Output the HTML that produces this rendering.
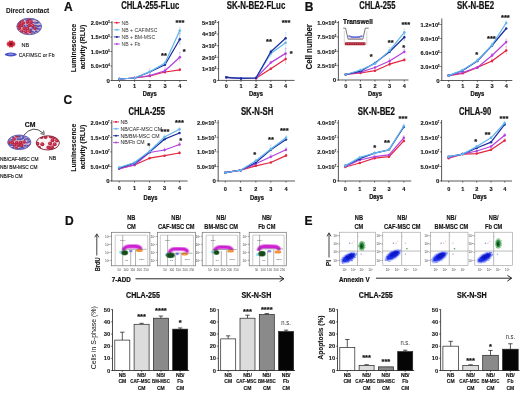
<!DOCTYPE html>
<html><head><meta charset="utf-8"><style>
html,body{margin:0;padding:0;background:#fff;}
svg{display:block;font-family:"Liberation Sans", sans-serif;filter:blur(0.3px);}
</style></head><body>
<svg width="520" height="393" viewBox="0 0 520 393">
<rect width="520" height="393" fill="#fff"/>
<text x="27.60" y="12.74" font-size="7.6" text-anchor="middle" fill="#111" font-weight="bold" stroke="#111" stroke-width="0.05" textLength="43.3" lengthAdjust="spacingAndGlyphs" >Direct contact</text>
<clipPath id="c1"><ellipse cx="29.2" cy="26.5" rx="12.4" ry="8.2"/></clipPath>
<ellipse cx="29.2" cy="26.5" rx="12.4" ry="8.2" fill="#d8b4d4"/>
<g clip-path="url(#c1)">
<circle cx="17.97" cy="19.74" r="1.85" fill="#b8233f"/>
<circle cx="17.67" cy="19.44" r="0.74" fill="#d85a70"/>
<circle cx="22.04" cy="19.92" r="1.85" fill="#b8233f"/>
<circle cx="21.74" cy="19.62" r="0.74" fill="#d85a70"/>
<ellipse cx="26.22" cy="19.65" rx="2.7" ry="1.0" fill="#474aa8" transform="rotate(25 26.22 19.65)"/>
<ellipse cx="26.22" cy="19.65" rx="1.3" ry="0.4" fill="#9a9ae0" transform="rotate(-4 26.22 19.65)"/>
<circle cx="29.33" cy="19.10" r="1.85" fill="#b8233f"/>
<circle cx="29.03" cy="18.80" r="0.74" fill="#d85a70"/>
<ellipse cx="33.27" cy="19.18" rx="2.7" ry="1.0" fill="#474aa8" transform="rotate(-26 33.27 19.18)"/>
<ellipse cx="33.27" cy="19.18" rx="1.3" ry="0.4" fill="#9a9ae0" transform="rotate(-18 33.27 19.18)"/>
<circle cx="37.47" cy="19.44" r="1.85" fill="#b8233f"/>
<circle cx="37.17" cy="19.14" r="0.74" fill="#d85a70"/>
<ellipse cx="40.51" cy="19.77" rx="2.7" ry="1.0" fill="#474aa8" transform="rotate(-14 40.51 19.77)"/>
<ellipse cx="40.51" cy="19.77" rx="1.3" ry="0.4" fill="#9a9ae0" transform="rotate(2 40.51 19.77)"/>
<circle cx="19.49" cy="22.24" r="1.85" fill="#b8233f"/>
<circle cx="19.19" cy="21.94" r="0.74" fill="#d85a70"/>
<circle cx="23.20" cy="23.01" r="1.85" fill="#b8233f"/>
<circle cx="22.90" cy="22.71" r="0.74" fill="#d85a70"/>
<circle cx="27.39" cy="22.06" r="1.85" fill="#b8233f"/>
<circle cx="27.09" cy="21.76" r="0.74" fill="#d85a70"/>
<circle cx="31.12" cy="22.37" r="1.85" fill="#b8233f"/>
<circle cx="30.82" cy="22.07" r="0.74" fill="#d85a70"/>
<ellipse cx="35.48" cy="22.75" rx="2.7" ry="1.0" fill="#474aa8" transform="rotate(4 35.48 22.75)"/>
<ellipse cx="35.48" cy="22.75" rx="1.3" ry="0.4" fill="#9a9ae0" transform="rotate(26 35.48 22.75)"/>
<ellipse cx="39.52" cy="22.23" rx="2.7" ry="1.0" fill="#474aa8" transform="rotate(-3 39.52 22.23)"/>
<ellipse cx="39.52" cy="22.23" rx="1.3" ry="0.4" fill="#9a9ae0" transform="rotate(-33 39.52 22.23)"/>
<circle cx="18.43" cy="25.44" r="1.85" fill="#b8233f"/>
<circle cx="18.13" cy="25.14" r="0.74" fill="#d85a70"/>
<circle cx="21.59" cy="25.46" r="1.85" fill="#b8233f"/>
<circle cx="21.29" cy="25.16" r="0.74" fill="#d85a70"/>
<ellipse cx="25.89" cy="25.71" rx="2.7" ry="1.0" fill="#474aa8" transform="rotate(-4 25.89 25.71)"/>
<ellipse cx="25.89" cy="25.71" rx="1.3" ry="0.4" fill="#9a9ae0" transform="rotate(24 25.89 25.71)"/>
<circle cx="29.28" cy="25.44" r="1.85" fill="#b8233f"/>
<circle cx="28.98" cy="25.14" r="0.74" fill="#d85a70"/>
<circle cx="32.85" cy="25.83" r="1.85" fill="#b8233f"/>
<circle cx="32.55" cy="25.53" r="0.74" fill="#d85a70"/>
<ellipse cx="36.65" cy="26.03" rx="2.7" ry="1.0" fill="#474aa8" transform="rotate(11 36.65 26.03)"/>
<ellipse cx="36.65" cy="26.03" rx="1.3" ry="0.4" fill="#9a9ae0" transform="rotate(-17 36.65 26.03)"/>
<ellipse cx="40.98" cy="26.01" rx="2.7" ry="1.0" fill="#474aa8" transform="rotate(5 40.98 26.01)"/>
<ellipse cx="40.98" cy="26.01" rx="1.3" ry="0.4" fill="#9a9ae0" transform="rotate(4 40.98 26.01)"/>
<circle cx="19.30" cy="28.20" r="1.85" fill="#b8233f"/>
<circle cx="19.00" cy="27.90" r="0.74" fill="#d85a70"/>
<circle cx="24.35" cy="28.29" r="1.85" fill="#b8233f"/>
<circle cx="24.05" cy="27.99" r="0.74" fill="#d85a70"/>
<circle cx="27.60" cy="28.53" r="1.85" fill="#b8233f"/>
<circle cx="27.30" cy="28.23" r="0.74" fill="#d85a70"/>
<ellipse cx="31.91" cy="28.58" rx="2.7" ry="1.0" fill="#474aa8" transform="rotate(-31 31.91 28.58)"/>
<ellipse cx="31.91" cy="28.58" rx="1.3" ry="0.4" fill="#9a9ae0" transform="rotate(28 31.91 28.58)"/>
<circle cx="35.12" cy="28.33" r="1.85" fill="#b8233f"/>
<circle cx="34.82" cy="28.03" r="0.74" fill="#d85a70"/>
<ellipse cx="38.74" cy="29.02" rx="2.7" ry="1.0" fill="#474aa8" transform="rotate(12 38.74 29.02)"/>
<ellipse cx="38.74" cy="29.02" rx="1.3" ry="0.4" fill="#9a9ae0" transform="rotate(-16 38.74 29.02)"/>
<circle cx="17.18" cy="31.59" r="1.85" fill="#b8233f"/>
<circle cx="16.88" cy="31.29" r="0.74" fill="#d85a70"/>
<circle cx="21.87" cy="31.34" r="1.85" fill="#b8233f"/>
<circle cx="21.57" cy="31.04" r="0.74" fill="#d85a70"/>
<circle cx="25.86" cy="31.49" r="1.85" fill="#b8233f"/>
<circle cx="25.56" cy="31.19" r="0.74" fill="#d85a70"/>
<circle cx="30.06" cy="31.28" r="1.85" fill="#b8233f"/>
<circle cx="29.76" cy="30.98" r="0.74" fill="#d85a70"/>
<ellipse cx="32.95" cy="32.11" rx="2.7" ry="1.0" fill="#474aa8" transform="rotate(27 32.95 32.11)"/>
<ellipse cx="32.95" cy="32.11" rx="1.3" ry="0.4" fill="#9a9ae0" transform="rotate(-1 32.95 32.11)"/>
<ellipse cx="37.32" cy="31.72" rx="2.7" ry="1.0" fill="#474aa8" transform="rotate(10 37.32 31.72)"/>
<ellipse cx="37.32" cy="31.72" rx="1.3" ry="0.4" fill="#9a9ae0" transform="rotate(-31 37.32 31.72)"/>
<ellipse cx="41.56" cy="31.53" rx="2.7" ry="1.0" fill="#474aa8" transform="rotate(27 41.56 31.53)"/>
<ellipse cx="41.56" cy="31.53" rx="1.3" ry="0.4" fill="#9a9ae0" transform="rotate(-2 41.56 31.53)"/>
<circle cx="20.13" cy="34.90" r="1.85" fill="#b8233f"/>
<circle cx="19.83" cy="34.60" r="0.74" fill="#d85a70"/>
<circle cx="23.86" cy="34.79" r="1.85" fill="#b8233f"/>
<circle cx="23.56" cy="34.49" r="0.74" fill="#d85a70"/>
<circle cx="27.20" cy="34.88" r="1.85" fill="#b8233f"/>
<circle cx="26.90" cy="34.58" r="0.74" fill="#d85a70"/>
<circle cx="31.66" cy="35.01" r="1.85" fill="#b8233f"/>
<circle cx="31.36" cy="34.71" r="0.74" fill="#d85a70"/>
<circle cx="35.68" cy="35.04" r="1.85" fill="#b8233f"/>
<circle cx="35.38" cy="34.74" r="0.74" fill="#d85a70"/>
<circle cx="39.77" cy="34.90" r="1.85" fill="#b8233f"/>
<circle cx="39.47" cy="34.60" r="0.74" fill="#d85a70"/>
</g>
<ellipse cx="29.2" cy="26.5" rx="12.4" ry="8.2" fill="none" stroke="#7068b0" stroke-width="1.0"/>
<polygon points="15.90,44.00 14.42,44.89 14.96,46.30 13.12,46.33 12.51,47.73 11.00,46.88 9.49,47.73 8.88,46.33 7.04,46.30 7.58,44.89 6.10,44.00 7.58,43.11 7.04,41.70 8.88,41.67 9.49,40.27 11.00,41.12 12.51,40.27 13.12,41.67 14.96,41.70 14.42,43.11" fill="#d0283c"/>
<circle cx="11" cy="44" r="1.6" fill="#8a1020"/>
<text x="25.30" y="46.66" font-size="6.0" text-anchor="middle" fill="#222" stroke="#222" stroke-width="0.15" textLength="7.6" lengthAdjust="spacingAndGlyphs" >NB</text>
<ellipse cx="10.8" cy="54.5" rx="6" ry="1.9" fill="#4c52c8"/>
<ellipse cx="10.8" cy="54.3" rx="3" ry="0.8" fill="#8a90e0"/>
<text x="18.70" y="57.43" font-size="6.2" text-anchor="start" fill="#222" stroke="#222" stroke-width="0.15" textLength="35.8" lengthAdjust="spacingAndGlyphs" >CAF/MSC or Fb</text>
<text x="30.20" y="126.58" font-size="8.0" text-anchor="middle" fill="#111" font-weight="bold" stroke="#111" stroke-width="0.22" textLength="10.7" lengthAdjust="spacingAndGlyphs" >CM</text>
<path d="M23.5,135.5 Q33,124 43,133" fill="none" stroke="#222" stroke-width="0.8"/>
<path d="M40.5,133.6 L44.2,134.4 L43.6,130.6" fill="none" stroke="#222" stroke-width="0.8"/>
<clipPath id="c2"><ellipse cx="19.3" cy="142.3" rx="11.6" ry="7.3"/></clipPath>
<ellipse cx="19.3" cy="142.3" rx="11.6" ry="7.3" fill="#d8b4d4"/>
<g clip-path="url(#c2)">
<circle cx="8.65" cy="136.07" r="1.85" fill="#b8233f"/>
<circle cx="8.35" cy="135.77" r="0.74" fill="#d85a70"/>
<ellipse cx="11.91" cy="136.20" rx="2.7" ry="1.0" fill="#474aa8" transform="rotate(35 11.91 136.20)"/>
<ellipse cx="11.91" cy="136.20" rx="1.3" ry="0.4" fill="#9a9ae0" transform="rotate(-30 11.91 136.20)"/>
<circle cx="16.82" cy="135.87" r="1.85" fill="#b8233f"/>
<circle cx="16.52" cy="135.57" r="0.74" fill="#d85a70"/>
<ellipse cx="20.29" cy="135.87" rx="2.7" ry="1.0" fill="#474aa8" transform="rotate(-27 20.29 135.87)"/>
<ellipse cx="20.29" cy="135.87" rx="1.3" ry="0.4" fill="#9a9ae0" transform="rotate(14 20.29 135.87)"/>
<ellipse cx="24.71" cy="136.59" rx="2.7" ry="1.0" fill="#474aa8" transform="rotate(-7 24.71 136.59)"/>
<ellipse cx="24.71" cy="136.59" rx="1.3" ry="0.4" fill="#9a9ae0" transform="rotate(18 24.71 136.59)"/>
<ellipse cx="28.75" cy="136.47" rx="2.7" ry="1.0" fill="#474aa8" transform="rotate(8 28.75 136.47)"/>
<ellipse cx="28.75" cy="136.47" rx="1.3" ry="0.4" fill="#9a9ae0" transform="rotate(-30 28.75 136.47)"/>
<ellipse cx="10.23" cy="139.63" rx="2.7" ry="1.0" fill="#474aa8" transform="rotate(13 10.23 139.63)"/>
<ellipse cx="10.23" cy="139.63" rx="1.3" ry="0.4" fill="#9a9ae0" transform="rotate(27 10.23 139.63)"/>
<circle cx="14.04" cy="138.98" r="1.85" fill="#b8233f"/>
<circle cx="13.74" cy="138.68" r="0.74" fill="#d85a70"/>
<ellipse cx="19.10" cy="138.75" rx="2.7" ry="1.0" fill="#474aa8" transform="rotate(-10 19.10 138.75)"/>
<ellipse cx="19.10" cy="138.75" rx="1.3" ry="0.4" fill="#9a9ae0" transform="rotate(7 19.10 138.75)"/>
<ellipse cx="21.66" cy="138.83" rx="2.7" ry="1.0" fill="#474aa8" transform="rotate(-25 21.66 138.83)"/>
<ellipse cx="21.66" cy="138.83" rx="1.3" ry="0.4" fill="#9a9ae0" transform="rotate(28 21.66 138.83)"/>
<ellipse cx="26.30" cy="138.94" rx="2.7" ry="1.0" fill="#474aa8" transform="rotate(-24 26.30 138.94)"/>
<ellipse cx="26.30" cy="138.94" rx="1.3" ry="0.4" fill="#9a9ae0" transform="rotate(-17 26.30 138.94)"/>
<ellipse cx="29.69" cy="139.35" rx="2.7" ry="1.0" fill="#474aa8" transform="rotate(-16 29.69 139.35)"/>
<ellipse cx="29.69" cy="139.35" rx="1.3" ry="0.4" fill="#9a9ae0" transform="rotate(-1 29.69 139.35)"/>
<circle cx="9.03" cy="142.36" r="1.85" fill="#b8233f"/>
<circle cx="8.73" cy="142.06" r="0.74" fill="#d85a70"/>
<circle cx="12.46" cy="142.69" r="1.85" fill="#b8233f"/>
<circle cx="12.16" cy="142.39" r="0.74" fill="#d85a70"/>
<circle cx="16.83" cy="142.63" r="1.85" fill="#b8233f"/>
<circle cx="16.53" cy="142.33" r="0.74" fill="#d85a70"/>
<circle cx="20.66" cy="142.65" r="1.85" fill="#b8233f"/>
<circle cx="20.36" cy="142.35" r="0.74" fill="#d85a70"/>
<circle cx="24.11" cy="141.99" r="1.85" fill="#b8233f"/>
<circle cx="23.81" cy="141.69" r="0.74" fill="#d85a70"/>
<ellipse cx="28.54" cy="142.16" rx="2.7" ry="1.0" fill="#474aa8" transform="rotate(-21 28.54 142.16)"/>
<ellipse cx="28.54" cy="142.16" rx="1.3" ry="0.4" fill="#9a9ae0" transform="rotate(-8 28.54 142.16)"/>
<ellipse cx="10.26" cy="145.10" rx="2.7" ry="1.0" fill="#474aa8" transform="rotate(1 10.26 145.10)"/>
<ellipse cx="10.26" cy="145.10" rx="1.3" ry="0.4" fill="#9a9ae0" transform="rotate(-22 10.26 145.10)"/>
<circle cx="14.57" cy="144.88" r="1.85" fill="#b8233f"/>
<circle cx="14.27" cy="144.58" r="0.74" fill="#d85a70"/>
<circle cx="18.35" cy="145.17" r="1.85" fill="#b8233f"/>
<circle cx="18.05" cy="144.87" r="0.74" fill="#d85a70"/>
<circle cx="21.74" cy="145.47" r="1.85" fill="#b8233f"/>
<circle cx="21.44" cy="145.17" r="0.74" fill="#d85a70"/>
<ellipse cx="26.26" cy="145.78" rx="2.7" ry="1.0" fill="#474aa8" transform="rotate(2 26.26 145.78)"/>
<ellipse cx="26.26" cy="145.78" rx="1.3" ry="0.4" fill="#9a9ae0" transform="rotate(-14 26.26 145.78)"/>
<circle cx="30.42" cy="145.70" r="1.85" fill="#b8233f"/>
<circle cx="30.12" cy="145.40" r="0.74" fill="#d85a70"/>
<ellipse cx="9.13" cy="148.13" rx="2.7" ry="1.0" fill="#474aa8" transform="rotate(-17 9.13 148.13)"/>
<ellipse cx="9.13" cy="148.13" rx="1.3" ry="0.4" fill="#9a9ae0" transform="rotate(-34 9.13 148.13)"/>
<ellipse cx="11.97" cy="148.32" rx="2.7" ry="1.0" fill="#474aa8" transform="rotate(-34 11.97 148.32)"/>
<ellipse cx="11.97" cy="148.32" rx="1.3" ry="0.4" fill="#9a9ae0" transform="rotate(10 11.97 148.32)"/>
<circle cx="16.20" cy="148.35" r="1.85" fill="#b8233f"/>
<circle cx="15.90" cy="148.05" r="0.74" fill="#d85a70"/>
<ellipse cx="20.75" cy="148.16" rx="2.7" ry="1.0" fill="#474aa8" transform="rotate(-17 20.75 148.16)"/>
<ellipse cx="20.75" cy="148.16" rx="1.3" ry="0.4" fill="#9a9ae0" transform="rotate(14 20.75 148.16)"/>
<ellipse cx="24.42" cy="148.67" rx="2.7" ry="1.0" fill="#474aa8" transform="rotate(28 24.42 148.67)"/>
<ellipse cx="24.42" cy="148.67" rx="1.3" ry="0.4" fill="#9a9ae0" transform="rotate(9 24.42 148.67)"/>
<ellipse cx="27.64" cy="147.92" rx="2.7" ry="1.0" fill="#474aa8" transform="rotate(-25 27.64 147.92)"/>
<ellipse cx="27.64" cy="147.92" rx="1.3" ry="0.4" fill="#9a9ae0" transform="rotate(-15 27.64 147.92)"/>
</g>
<ellipse cx="19.3" cy="142.3" rx="11.6" ry="7.3" fill="none" stroke="#6064b8" stroke-width="1.0"/>
<clipPath id="c3"><ellipse cx="47.8" cy="142.9" rx="11.6" ry="7.1"/></clipPath>
<ellipse cx="47.8" cy="142.9" rx="11.6" ry="7.1" fill="#fbf2f4"/>
<g clip-path="url(#c3)">
<circle cx="37.13" cy="137.06" r="2.0" fill="#b8233f"/>
<circle cx="36.83" cy="136.76" r="0.80" fill="#d85a70"/>
<circle cx="41.55" cy="137.01" r="2.0" fill="#b8233f"/>
<circle cx="41.25" cy="136.71" r="0.80" fill="#d85a70"/>
<circle cx="45.56" cy="137.01" r="2.0" fill="#b8233f"/>
<circle cx="45.26" cy="136.71" r="0.80" fill="#d85a70"/>
<circle cx="50.81" cy="136.59" r="2.0" fill="#b8233f"/>
<circle cx="50.51" cy="136.29" r="0.80" fill="#d85a70"/>
<circle cx="54.23" cy="137.31" r="2.0" fill="#b8233f"/>
<circle cx="53.93" cy="137.01" r="0.80" fill="#d85a70"/>
<circle cx="58.56" cy="137.48" r="2.0" fill="#b8233f"/>
<circle cx="58.26" cy="137.18" r="0.80" fill="#d85a70"/>
<circle cx="52.55" cy="140.37" r="2.0" fill="#b8233f"/>
<circle cx="52.25" cy="140.07" r="0.80" fill="#d85a70"/>
<circle cx="57.03" cy="140.57" r="2.0" fill="#b8233f"/>
<circle cx="56.73" cy="140.27" r="0.80" fill="#d85a70"/>
<circle cx="37.43" cy="143.82" r="2.0" fill="#b8233f"/>
<circle cx="37.13" cy="143.52" r="0.80" fill="#d85a70"/>
<circle cx="42.30" cy="144.36" r="2.0" fill="#b8233f"/>
<circle cx="42.00" cy="144.06" r="0.80" fill="#d85a70"/>
<circle cx="50.10" cy="143.43" r="2.0" fill="#b8233f"/>
<circle cx="49.80" cy="143.13" r="0.80" fill="#d85a70"/>
<circle cx="54.66" cy="144.21" r="2.0" fill="#b8233f"/>
<circle cx="54.36" cy="143.91" r="0.80" fill="#d85a70"/>
<circle cx="38.99" cy="147.71" r="2.0" fill="#b8233f"/>
<circle cx="38.69" cy="147.41" r="0.80" fill="#d85a70"/>
<circle cx="48.38" cy="147.57" r="2.0" fill="#b8233f"/>
<circle cx="48.08" cy="147.27" r="0.80" fill="#d85a70"/>
<circle cx="52.02" cy="147.13" r="2.0" fill="#b8233f"/>
<circle cx="51.72" cy="146.83" r="0.80" fill="#d85a70"/>
<circle cx="36.64" cy="150.29" r="2.0" fill="#b8233f"/>
<circle cx="36.34" cy="149.99" r="0.80" fill="#d85a70"/>
<circle cx="41.15" cy="150.79" r="2.0" fill="#b8233f"/>
<circle cx="40.85" cy="150.49" r="0.80" fill="#d85a70"/>
<circle cx="50.60" cy="150.34" r="2.0" fill="#b8233f"/>
<circle cx="50.30" cy="150.04" r="0.80" fill="#d85a70"/>
<circle cx="54.40" cy="150.50" r="2.0" fill="#b8233f"/>
<circle cx="54.10" cy="150.20" r="0.80" fill="#d85a70"/>
<circle cx="59.62" cy="150.53" r="2.0" fill="#b8233f"/>
<circle cx="59.32" cy="150.23" r="0.80" fill="#d85a70"/>
</g>
<ellipse cx="47.8" cy="142.9" rx="11.6" ry="7.1" fill="none" stroke="#8a2a3c" stroke-width="1.0"/>
<text x="0.00" y="160.83" font-size="6.2" text-anchor="start" fill="#1a1a1a" stroke="#1a1a1a" stroke-width="0.2" textLength="38.5" lengthAdjust="spacingAndGlyphs" >NB/CAF-MSC CM</text>
<text x="0.00" y="169.03" font-size="6.2" text-anchor="start" fill="#1a1a1a" stroke="#1a1a1a" stroke-width="0.2" textLength="37.4" lengthAdjust="spacingAndGlyphs" >NB/ BM-MSC CM</text>
<text x="0.00" y="177.53" font-size="6.2" text-anchor="start" fill="#1a1a1a" stroke="#1a1a1a" stroke-width="0.2" textLength="22.6" lengthAdjust="spacingAndGlyphs" >NB/Fb CM</text>
<text x="52.60" y="160.46" font-size="6.0" text-anchor="middle" fill="#1a1a1a" stroke="#1a1a1a" stroke-width="0.2" textLength="7.0" lengthAdjust="spacingAndGlyphs" >NB</text>
<text x="68.40" y="10.92" font-size="12.0" text-anchor="middle" fill="#111" font-weight="bold" stroke="#111" stroke-width="0.22" >A</text>
<text x="309.00" y="11.42" font-size="12.0" text-anchor="middle" fill="#111" font-weight="bold" stroke="#111" stroke-width="0.22" >B</text>
<text x="67.80" y="104.32" font-size="12.0" text-anchor="middle" fill="#111" font-weight="bold" stroke="#111" stroke-width="0.22" >C</text>
<text x="69.40" y="225.32" font-size="12.0" text-anchor="middle" fill="#111" font-weight="bold" stroke="#111" stroke-width="0.22" >D</text>
<text x="308.60" y="225.32" font-size="12.0" text-anchor="middle" fill="#111" font-weight="bold" stroke="#111" stroke-width="0.22" >E</text>
<line x1="112.00" y1="21.00" x2="112.00" y2="81.00" stroke="#505050" stroke-width="0.95" />
<line x1="111.50" y1="80.50" x2="187.00" y2="80.50" stroke="#505050" stroke-width="0.95" />
<line x1="110.40" y1="22.60" x2="112.00" y2="22.60" stroke="#222" stroke-width="0.6" />
<text x="109.80" y="24.80" font-size="6.1" text-anchor="end" fill="#111" font-weight="bold" stroke="#111" stroke-width="0.12" textLength="19.0" lengthAdjust="spacingAndGlyphs" >2.0×10<tspan dy="-2" font-size="3">5</tspan></text>
<line x1="110.40" y1="37.10" x2="112.00" y2="37.10" stroke="#222" stroke-width="0.6" />
<text x="109.80" y="39.30" font-size="6.1" text-anchor="end" fill="#111" font-weight="bold" stroke="#111" stroke-width="0.12" textLength="19.0" lengthAdjust="spacingAndGlyphs" >1.5×10<tspan dy="-2" font-size="3">5</tspan></text>
<line x1="110.40" y1="51.50" x2="112.00" y2="51.50" stroke="#222" stroke-width="0.6" />
<text x="109.80" y="53.70" font-size="6.1" text-anchor="end" fill="#111" font-weight="bold" stroke="#111" stroke-width="0.12" textLength="19.0" lengthAdjust="spacingAndGlyphs" >1.0×10<tspan dy="-2" font-size="3">5</tspan></text>
<line x1="110.40" y1="66.00" x2="112.00" y2="66.00" stroke="#222" stroke-width="0.6" />
<text x="109.80" y="68.20" font-size="6.1" text-anchor="end" fill="#111" font-weight="bold" stroke="#111" stroke-width="0.12" textLength="19.0" lengthAdjust="spacingAndGlyphs" >5.0×10<tspan dy="-2" font-size="3">4</tspan></text>
<line x1="110.40" y1="80.50" x2="112.00" y2="80.50" stroke="#222" stroke-width="0.6" />
<text x="109.80" y="82.70" font-size="6.1" text-anchor="end" fill="#111" font-weight="bold" stroke="#111" stroke-width="0.12" >0</text>
<line x1="119.50" y1="80.50" x2="119.50" y2="82.10" stroke="#222" stroke-width="0.6" />
<text x="119.50" y="87.82" font-size="5.6" text-anchor="middle" fill="#111" font-weight="bold" stroke="#111" stroke-width="0.12" >0</text>
<line x1="134.60" y1="80.50" x2="134.60" y2="82.10" stroke="#222" stroke-width="0.6" />
<text x="134.60" y="87.82" font-size="5.6" text-anchor="middle" fill="#111" font-weight="bold" stroke="#111" stroke-width="0.12" >1</text>
<line x1="149.80" y1="80.50" x2="149.80" y2="82.10" stroke="#222" stroke-width="0.6" />
<text x="149.80" y="87.82" font-size="5.6" text-anchor="middle" fill="#111" font-weight="bold" stroke="#111" stroke-width="0.12" >2</text>
<line x1="165.00" y1="80.50" x2="165.00" y2="82.10" stroke="#222" stroke-width="0.6" />
<text x="165.00" y="87.82" font-size="5.6" text-anchor="middle" fill="#111" font-weight="bold" stroke="#111" stroke-width="0.12" >3</text>
<line x1="179.80" y1="80.50" x2="179.80" y2="82.10" stroke="#222" stroke-width="0.6" />
<text x="179.80" y="87.82" font-size="5.6" text-anchor="middle" fill="#111" font-weight="bold" stroke="#111" stroke-width="0.12" >4</text>
<text x="149.74" y="96.19" font-size="7.2" text-anchor="middle" fill="#111" font-weight="bold" stroke="#111" stroke-width="0.22" textLength="13.9" lengthAdjust="spacingAndGlyphs" >Days</text>
<text x="150.20" y="9.10" font-size="10.0" text-anchor="middle" fill="#111" font-weight="bold" stroke="#111" stroke-width="0.22" textLength="58" lengthAdjust="spacingAndGlyphs" >CHLA-255-FLuc</text>
<line x1="149.80" y1="74.50" x2="149.80" y2="77.50" stroke="#e3263f" stroke-width="0.5" stroke-opacity="0.55"/>
<line x1="148.80" y1="74.50" x2="150.80" y2="74.50" stroke="#e3263f" stroke-width="0.5" stroke-opacity="0.55"/>
<line x1="165.00" y1="70.00" x2="165.00" y2="74.00" stroke="#e3263f" stroke-width="0.5" stroke-opacity="0.55"/>
<line x1="164.00" y1="70.00" x2="166.00" y2="70.00" stroke="#e3263f" stroke-width="0.5" stroke-opacity="0.55"/>
<line x1="179.80" y1="68.30" x2="179.80" y2="71.30" stroke="#e3263f" stroke-width="0.5" stroke-opacity="0.55"/>
<line x1="178.80" y1="68.30" x2="180.80" y2="68.30" stroke="#e3263f" stroke-width="0.5" stroke-opacity="0.55"/>
<polyline points="119.50,79.00 134.60,78.00 149.80,76.00 165.00,72.00 179.80,69.80" fill="none" stroke="#e3263f" stroke-width="1.25" stroke-linejoin="round"/>
<circle cx="119.50" cy="79.00" r="1.25" fill="#e3263f"/>
<circle cx="134.60" cy="78.00" r="1.25" fill="#e3263f"/>
<circle cx="149.80" cy="76.00" r="1.25" fill="#e3263f"/>
<circle cx="165.00" cy="72.00" r="1.25" fill="#e3263f"/>
<circle cx="179.80" cy="69.80" r="1.25" fill="#e3263f"/>
<line x1="165.00" y1="67.80" x2="165.00" y2="73.80" stroke="#b541dd" stroke-width="0.5" stroke-opacity="0.55"/>
<line x1="164.00" y1="67.80" x2="166.00" y2="67.80" stroke="#b541dd" stroke-width="0.5" stroke-opacity="0.55"/>
<line x1="179.80" y1="52.20" x2="179.80" y2="62.20" stroke="#b541dd" stroke-width="0.5" stroke-opacity="0.55"/>
<line x1="178.80" y1="52.20" x2="180.80" y2="52.20" stroke="#b541dd" stroke-width="0.5" stroke-opacity="0.55"/>
<polyline points="119.50,79.00 134.60,78.00 149.80,75.50 165.00,70.80 179.80,57.20" fill="none" stroke="#b541dd" stroke-width="1.25" stroke-linejoin="round"/>
<circle cx="119.50" cy="79.00" r="1.25" fill="#b541dd"/>
<circle cx="134.60" cy="78.00" r="1.25" fill="#b541dd"/>
<circle cx="149.80" cy="75.50" r="1.25" fill="#b541dd"/>
<circle cx="165.00" cy="70.80" r="1.25" fill="#b541dd"/>
<circle cx="179.80" cy="57.20" r="1.25" fill="#b541dd"/>
<line x1="179.80" y1="33.20" x2="179.80" y2="45.20" stroke="#1d2e9e" stroke-width="0.5" stroke-opacity="0.55"/>
<line x1="178.80" y1="33.20" x2="180.80" y2="33.20" stroke="#1d2e9e" stroke-width="0.5" stroke-opacity="0.55"/>
<polyline points="119.50,79.00 134.60,78.00 149.80,72.00 165.00,64.80 179.80,39.20" fill="none" stroke="#1d2e9e" stroke-width="1.25" stroke-linejoin="round"/>
<circle cx="119.50" cy="79.00" r="1.25" fill="#1d2e9e"/>
<circle cx="134.60" cy="78.00" r="1.25" fill="#1d2e9e"/>
<circle cx="149.80" cy="72.00" r="1.25" fill="#1d2e9e"/>
<circle cx="165.00" cy="64.80" r="1.25" fill="#1d2e9e"/>
<circle cx="179.80" cy="39.20" r="1.25" fill="#1d2e9e"/>
<line x1="149.80" y1="68.70" x2="149.80" y2="74.70" stroke="#62b6ee" stroke-width="0.5" stroke-opacity="0.55"/>
<line x1="148.80" y1="68.70" x2="150.80" y2="68.70" stroke="#62b6ee" stroke-width="0.5" stroke-opacity="0.55"/>
<line x1="179.80" y1="27.60" x2="179.80" y2="33.60" stroke="#62b6ee" stroke-width="0.5" stroke-opacity="0.55"/>
<line x1="178.80" y1="27.60" x2="180.80" y2="27.60" stroke="#62b6ee" stroke-width="0.5" stroke-opacity="0.55"/>
<polyline points="119.50,79.00 134.60,78.00 149.80,71.70 165.00,63.00 179.80,30.60" fill="none" stroke="#62b6ee" stroke-width="1.25" stroke-linejoin="round"/>
<circle cx="119.50" cy="79.00" r="1.25" fill="#62b6ee"/>
<circle cx="134.60" cy="78.00" r="1.25" fill="#62b6ee"/>
<circle cx="149.80" cy="71.70" r="1.25" fill="#62b6ee"/>
<circle cx="165.00" cy="63.00" r="1.25" fill="#62b6ee"/>
<circle cx="179.80" cy="30.60" r="1.25" fill="#62b6ee"/>
<text x="163.90" y="57.60" font-size="7.5" text-anchor="middle" fill="#111" font-weight="bold" stroke="#111" stroke-width="0.22">**</text>
<text x="180.00" y="24.80" font-size="7.5" text-anchor="middle" fill="#111" font-weight="bold" stroke="#111" stroke-width="0.22">***</text>
<text x="184.30" y="53.80" font-size="7.5" text-anchor="middle" fill="#111" font-weight="bold" stroke="#111" stroke-width="0.22">*</text>
<text x="0" y="0" font-size="7.9" text-anchor="middle" fill="#111" font-weight="bold" stroke="#111" stroke-width="0.1" textLength="48.5" lengthAdjust="spacingAndGlyphs" transform="translate(75.84 48.00) rotate(-90)">Luminescence</text>
<text x="0" y="0" font-size="7.9" text-anchor="middle" fill="#111" font-weight="bold" stroke="#111" stroke-width="0.1" textLength="44.6" lengthAdjust="spacingAndGlyphs" transform="translate(84.54 47.00) rotate(-90)">activity (RLU)</text>
<line x1="113.80" y1="22.70" x2="119.80" y2="22.70" stroke="#e3263f" stroke-width="0.9" />
<circle cx="116.8" cy="22.7" r="1.0" fill="#e3263f"/>
<text x="121.60" y="24.54" font-size="5.1" text-anchor="start" fill="#333" >NB</text>
<line x1="113.80" y1="29.80" x2="119.80" y2="29.80" stroke="#62b6ee" stroke-width="0.9" />
<circle cx="116.8" cy="29.799999999999997" r="1.0" fill="#62b6ee"/>
<text x="121.60" y="31.64" font-size="5.1" text-anchor="start" fill="#333" >NB + CAF/MSC</text>
<line x1="113.80" y1="36.90" x2="119.80" y2="36.90" stroke="#1d2e9e" stroke-width="0.9" />
<circle cx="116.8" cy="36.9" r="1.0" fill="#1d2e9e"/>
<text x="121.60" y="38.74" font-size="5.1" text-anchor="start" fill="#333" >NB + BM-MSC</text>
<line x1="113.80" y1="44.00" x2="119.80" y2="44.00" stroke="#b541dd" stroke-width="0.9" />
<circle cx="116.8" cy="44.0" r="1.0" fill="#b541dd"/>
<text x="121.60" y="45.84" font-size="5.1" text-anchor="start" fill="#333" >NB + Fb</text>
<line x1="218.60" y1="21.00" x2="218.60" y2="80.90" stroke="#505050" stroke-width="0.95" />
<line x1="218.10" y1="80.40" x2="294.60" y2="80.40" stroke="#505050" stroke-width="0.95" />
<line x1="217.00" y1="22.60" x2="218.60" y2="22.60" stroke="#222" stroke-width="0.6" />
<text x="216.40" y="24.80" font-size="6.1" text-anchor="end" fill="#111" font-weight="bold" stroke="#111" stroke-width="0.12" textLength="14.5" lengthAdjust="spacingAndGlyphs" >5×10<tspan dy="-2" font-size="3">5</tspan></text>
<line x1="217.00" y1="34.20" x2="218.60" y2="34.20" stroke="#222" stroke-width="0.6" />
<text x="216.40" y="36.40" font-size="6.1" text-anchor="end" fill="#111" font-weight="bold" stroke="#111" stroke-width="0.12" textLength="14.5" lengthAdjust="spacingAndGlyphs" >4×10<tspan dy="-2" font-size="3">5</tspan></text>
<line x1="217.00" y1="45.80" x2="218.60" y2="45.80" stroke="#222" stroke-width="0.6" />
<text x="216.40" y="48.00" font-size="6.1" text-anchor="end" fill="#111" font-weight="bold" stroke="#111" stroke-width="0.12" textLength="14.5" lengthAdjust="spacingAndGlyphs" >3×10<tspan dy="-2" font-size="3">5</tspan></text>
<line x1="217.00" y1="57.30" x2="218.60" y2="57.30" stroke="#222" stroke-width="0.6" />
<text x="216.40" y="59.50" font-size="6.1" text-anchor="end" fill="#111" font-weight="bold" stroke="#111" stroke-width="0.12" textLength="14.5" lengthAdjust="spacingAndGlyphs" >2×10<tspan dy="-2" font-size="3">5</tspan></text>
<line x1="217.00" y1="68.90" x2="218.60" y2="68.90" stroke="#222" stroke-width="0.6" />
<text x="216.40" y="71.10" font-size="6.1" text-anchor="end" fill="#111" font-weight="bold" stroke="#111" stroke-width="0.12" textLength="14.5" lengthAdjust="spacingAndGlyphs" >1×10<tspan dy="-2" font-size="3">5</tspan></text>
<line x1="217.00" y1="80.50" x2="218.60" y2="80.50" stroke="#222" stroke-width="0.6" />
<text x="216.40" y="82.70" font-size="6.1" text-anchor="end" fill="#111" font-weight="bold" stroke="#111" stroke-width="0.12" >0</text>
<line x1="226.40" y1="80.40" x2="226.40" y2="82.00" stroke="#222" stroke-width="0.6" />
<text x="226.40" y="87.82" font-size="5.6" text-anchor="middle" fill="#111" font-weight="bold" stroke="#111" stroke-width="0.12" >0</text>
<line x1="241.00" y1="80.40" x2="241.00" y2="82.00" stroke="#222" stroke-width="0.6" />
<text x="241.00" y="87.82" font-size="5.6" text-anchor="middle" fill="#111" font-weight="bold" stroke="#111" stroke-width="0.12" >1</text>
<line x1="256.00" y1="80.40" x2="256.00" y2="82.00" stroke="#222" stroke-width="0.6" />
<text x="256.00" y="87.82" font-size="5.6" text-anchor="middle" fill="#111" font-weight="bold" stroke="#111" stroke-width="0.12" >2</text>
<line x1="270.80" y1="80.40" x2="270.80" y2="82.00" stroke="#222" stroke-width="0.6" />
<text x="270.80" y="87.82" font-size="5.6" text-anchor="middle" fill="#111" font-weight="bold" stroke="#111" stroke-width="0.12" >3</text>
<line x1="285.60" y1="80.40" x2="285.60" y2="82.00" stroke="#222" stroke-width="0.6" />
<text x="285.60" y="87.82" font-size="5.6" text-anchor="middle" fill="#111" font-weight="bold" stroke="#111" stroke-width="0.12" >4</text>
<text x="255.96" y="96.19" font-size="7.2" text-anchor="middle" fill="#111" font-weight="bold" stroke="#111" stroke-width="0.22" textLength="13.9" lengthAdjust="spacingAndGlyphs" >Days</text>
<text x="256.00" y="9.10" font-size="10.0" text-anchor="middle" fill="#111" font-weight="bold" stroke="#111" stroke-width="0.22" textLength="58.6" lengthAdjust="spacingAndGlyphs" >SK-N-BE2-FLuc</text>
<line x1="285.60" y1="54.00" x2="285.60" y2="64.00" stroke="#e3263f" stroke-width="0.5" stroke-opacity="0.55"/>
<line x1="284.60" y1="54.00" x2="286.60" y2="54.00" stroke="#e3263f" stroke-width="0.5" stroke-opacity="0.55"/>
<polyline points="226.40,77.30 241.00,78.40 256.00,78.20 270.80,68.70 285.60,59.00" fill="none" stroke="#e3263f" stroke-width="1.25" stroke-linejoin="round"/>
<circle cx="226.40" cy="77.30" r="1.25" fill="#e3263f"/>
<circle cx="241.00" cy="78.40" r="1.25" fill="#e3263f"/>
<circle cx="256.00" cy="78.20" r="1.25" fill="#e3263f"/>
<circle cx="270.80" cy="68.70" r="1.25" fill="#e3263f"/>
<circle cx="285.60" cy="59.00" r="1.25" fill="#e3263f"/>
<line x1="285.60" y1="48.40" x2="285.60" y2="58.40" stroke="#b541dd" stroke-width="0.5" stroke-opacity="0.55"/>
<line x1="284.60" y1="48.40" x2="286.60" y2="48.40" stroke="#b541dd" stroke-width="0.5" stroke-opacity="0.55"/>
<polyline points="226.40,77.30 241.00,78.40 256.00,78.00 270.80,62.60 285.60,53.40" fill="none" stroke="#b541dd" stroke-width="1.25" stroke-linejoin="round"/>
<circle cx="226.40" cy="77.30" r="1.25" fill="#b541dd"/>
<circle cx="241.00" cy="78.40" r="1.25" fill="#b541dd"/>
<circle cx="256.00" cy="78.00" r="1.25" fill="#b541dd"/>
<circle cx="270.80" cy="62.60" r="1.25" fill="#b541dd"/>
<circle cx="285.60" cy="53.40" r="1.25" fill="#b541dd"/>
<line x1="270.80" y1="49.50" x2="270.80" y2="57.50" stroke="#62b6ee" stroke-width="0.5" stroke-opacity="0.55"/>
<line x1="269.80" y1="49.50" x2="271.80" y2="49.50" stroke="#62b6ee" stroke-width="0.5" stroke-opacity="0.55"/>
<line x1="285.60" y1="32.70" x2="285.60" y2="52.70" stroke="#62b6ee" stroke-width="0.5" stroke-opacity="0.55"/>
<line x1="284.60" y1="32.70" x2="286.60" y2="32.70" stroke="#62b6ee" stroke-width="0.5" stroke-opacity="0.55"/>
<polyline points="226.40,77.30 241.00,78.20 256.00,77.80 270.80,53.50 285.60,42.70" fill="none" stroke="#62b6ee" stroke-width="1.25" stroke-linejoin="round"/>
<circle cx="226.40" cy="77.30" r="1.25" fill="#62b6ee"/>
<circle cx="241.00" cy="78.20" r="1.25" fill="#62b6ee"/>
<circle cx="256.00" cy="77.80" r="1.25" fill="#62b6ee"/>
<circle cx="270.80" cy="53.50" r="1.25" fill="#62b6ee"/>
<circle cx="285.60" cy="42.70" r="1.25" fill="#62b6ee"/>
<polyline points="226.40,77.30 241.00,78.40 256.00,78.00 270.80,51.80 285.60,38.20" fill="none" stroke="#1d2e9e" stroke-width="1.25" stroke-linejoin="round"/>
<circle cx="226.40" cy="77.30" r="1.25" fill="#1d2e9e"/>
<circle cx="241.00" cy="78.40" r="1.25" fill="#1d2e9e"/>
<circle cx="256.00" cy="78.00" r="1.25" fill="#1d2e9e"/>
<circle cx="270.80" cy="51.80" r="1.25" fill="#1d2e9e"/>
<circle cx="285.60" cy="38.20" r="1.25" fill="#1d2e9e"/>
<text x="268.90" y="44.00" font-size="7.5" text-anchor="middle" fill="#111" font-weight="bold" stroke="#111" stroke-width="0.22">**</text>
<text x="286.10" y="25.40" font-size="7.5" text-anchor="middle" fill="#111" font-weight="bold" stroke="#111" stroke-width="0.22">***</text>
<text x="291.20" y="56.40" font-size="7.5" text-anchor="middle" fill="#111" font-weight="bold" stroke="#111" stroke-width="0.22">*</text>
<line x1="338.40" y1="21.00" x2="338.40" y2="80.50" stroke="#505050" stroke-width="0.95" />
<line x1="337.90" y1="80.00" x2="408.50" y2="80.00" stroke="#505050" stroke-width="0.95" />
<line x1="336.80" y1="22.60" x2="338.40" y2="22.60" stroke="#222" stroke-width="0.6" />
<text x="336.20" y="24.80" font-size="6.1" text-anchor="end" fill="#111" font-weight="bold" stroke="#111" stroke-width="0.12" textLength="19.0" lengthAdjust="spacingAndGlyphs" >1.0×10<tspan dy="-2" font-size="3">6</tspan></text>
<line x1="336.80" y1="36.95" x2="338.40" y2="36.95" stroke="#222" stroke-width="0.6" />
<text x="336.20" y="39.15" font-size="6.1" text-anchor="end" fill="#111" font-weight="bold" stroke="#111" stroke-width="0.12" textLength="19.0" lengthAdjust="spacingAndGlyphs" >7.5×10<tspan dy="-2" font-size="3">5</tspan></text>
<line x1="336.80" y1="51.30" x2="338.40" y2="51.30" stroke="#222" stroke-width="0.6" />
<text x="336.20" y="53.50" font-size="6.1" text-anchor="end" fill="#111" font-weight="bold" stroke="#111" stroke-width="0.12" textLength="19.0" lengthAdjust="spacingAndGlyphs" >5.0×10<tspan dy="-2" font-size="3">5</tspan></text>
<line x1="336.80" y1="65.65" x2="338.40" y2="65.65" stroke="#222" stroke-width="0.6" />
<text x="336.20" y="67.85" font-size="6.1" text-anchor="end" fill="#111" font-weight="bold" stroke="#111" stroke-width="0.12" textLength="19.0" lengthAdjust="spacingAndGlyphs" >2.5×10<tspan dy="-2" font-size="3">5</tspan></text>
<line x1="336.80" y1="80.00" x2="338.40" y2="80.00" stroke="#222" stroke-width="0.6" />
<text x="336.20" y="82.20" font-size="6.1" text-anchor="end" fill="#111" font-weight="bold" stroke="#111" stroke-width="0.12" >0</text>
<line x1="345.80" y1="80.00" x2="345.80" y2="81.60" stroke="#222" stroke-width="0.6" />
<text x="345.80" y="87.62" font-size="5.6" text-anchor="middle" fill="#111" font-weight="bold" stroke="#111" stroke-width="0.12" >0</text>
<line x1="360.50" y1="80.00" x2="360.50" y2="81.60" stroke="#222" stroke-width="0.6" />
<text x="360.50" y="87.62" font-size="5.6" text-anchor="middle" fill="#111" font-weight="bold" stroke="#111" stroke-width="0.12" >1</text>
<line x1="375.00" y1="80.00" x2="375.00" y2="81.60" stroke="#222" stroke-width="0.6" />
<text x="375.00" y="87.62" font-size="5.6" text-anchor="middle" fill="#111" font-weight="bold" stroke="#111" stroke-width="0.12" >2</text>
<line x1="389.60" y1="80.00" x2="389.60" y2="81.60" stroke="#222" stroke-width="0.6" />
<text x="389.60" y="87.62" font-size="5.6" text-anchor="middle" fill="#111" font-weight="bold" stroke="#111" stroke-width="0.12" >3</text>
<line x1="404.30" y1="80.00" x2="404.30" y2="81.60" stroke="#222" stroke-width="0.6" />
<text x="404.30" y="87.62" font-size="5.6" text-anchor="middle" fill="#111" font-weight="bold" stroke="#111" stroke-width="0.12" >4</text>
<text x="375.04" y="95.79" font-size="7.2" text-anchor="middle" fill="#111" font-weight="bold" stroke="#111" stroke-width="0.22" textLength="13.9" lengthAdjust="spacingAndGlyphs" >Days</text>
<text x="377.40" y="9.10" font-size="10.0" text-anchor="middle" fill="#111" font-weight="bold" stroke="#111" stroke-width="0.22" textLength="36.3" lengthAdjust="spacingAndGlyphs" >CHLA-255</text>
<line x1="389.60" y1="62.20" x2="389.60" y2="66.20" stroke="#e3263f" stroke-width="0.5" stroke-opacity="0.55"/>
<line x1="388.60" y1="62.20" x2="390.60" y2="62.20" stroke="#e3263f" stroke-width="0.5" stroke-opacity="0.55"/>
<line x1="404.30" y1="58.40" x2="404.30" y2="61.40" stroke="#e3263f" stroke-width="0.5" stroke-opacity="0.55"/>
<line x1="403.30" y1="58.40" x2="405.30" y2="58.40" stroke="#e3263f" stroke-width="0.5" stroke-opacity="0.55"/>
<polyline points="345.80,74.50 360.50,73.00 375.00,70.70 389.60,64.20 404.30,59.90" fill="none" stroke="#e3263f" stroke-width="1.25" stroke-linejoin="round"/>
<circle cx="345.80" cy="74.50" r="1.25" fill="#e3263f"/>
<circle cx="360.50" cy="73.00" r="1.25" fill="#e3263f"/>
<circle cx="375.00" cy="70.70" r="1.25" fill="#e3263f"/>
<circle cx="389.60" cy="64.20" r="1.25" fill="#e3263f"/>
<circle cx="404.30" cy="59.90" r="1.25" fill="#e3263f"/>
<line x1="389.60" y1="58.50" x2="389.60" y2="63.50" stroke="#b541dd" stroke-width="0.5" stroke-opacity="0.55"/>
<line x1="388.60" y1="58.50" x2="390.60" y2="58.50" stroke="#b541dd" stroke-width="0.5" stroke-opacity="0.55"/>
<line x1="404.30" y1="49.20" x2="404.30" y2="54.20" stroke="#b541dd" stroke-width="0.5" stroke-opacity="0.55"/>
<line x1="403.30" y1="49.20" x2="405.30" y2="49.20" stroke="#b541dd" stroke-width="0.5" stroke-opacity="0.55"/>
<polyline points="345.80,74.50 360.50,72.20 375.00,67.50 389.60,61.00 404.30,51.70" fill="none" stroke="#b541dd" stroke-width="1.25" stroke-linejoin="round"/>
<circle cx="345.80" cy="74.50" r="1.25" fill="#b541dd"/>
<circle cx="360.50" cy="72.20" r="1.25" fill="#b541dd"/>
<circle cx="375.00" cy="67.50" r="1.25" fill="#b541dd"/>
<circle cx="389.60" cy="61.00" r="1.25" fill="#b541dd"/>
<circle cx="404.30" cy="51.70" r="1.25" fill="#b541dd"/>
<line x1="404.30" y1="33.20" x2="404.30" y2="41.20" stroke="#1d2e9e" stroke-width="0.5" stroke-opacity="0.55"/>
<line x1="403.30" y1="33.20" x2="405.30" y2="33.20" stroke="#1d2e9e" stroke-width="0.5" stroke-opacity="0.55"/>
<polyline points="345.80,74.50 360.50,71.20 375.00,63.00 389.60,51.70 404.30,37.20" fill="none" stroke="#1d2e9e" stroke-width="1.25" stroke-linejoin="round"/>
<circle cx="345.80" cy="74.50" r="1.25" fill="#1d2e9e"/>
<circle cx="360.50" cy="71.20" r="1.25" fill="#1d2e9e"/>
<circle cx="375.00" cy="63.00" r="1.25" fill="#1d2e9e"/>
<circle cx="389.60" cy="51.70" r="1.25" fill="#1d2e9e"/>
<circle cx="404.30" cy="37.20" r="1.25" fill="#1d2e9e"/>
<line x1="389.60" y1="47.60" x2="389.60" y2="53.60" stroke="#62b6ee" stroke-width="0.5" stroke-opacity="0.55"/>
<line x1="388.60" y1="47.60" x2="390.60" y2="47.60" stroke="#62b6ee" stroke-width="0.5" stroke-opacity="0.55"/>
<line x1="404.30" y1="29.30" x2="404.30" y2="35.30" stroke="#62b6ee" stroke-width="0.5" stroke-opacity="0.55"/>
<line x1="403.30" y1="29.30" x2="405.30" y2="29.30" stroke="#62b6ee" stroke-width="0.5" stroke-opacity="0.55"/>
<polyline points="345.80,74.50 360.50,70.00 375.00,63.60 389.60,50.60 404.30,32.30" fill="none" stroke="#62b6ee" stroke-width="1.25" stroke-linejoin="round"/>
<circle cx="345.80" cy="74.50" r="1.25" fill="#62b6ee"/>
<circle cx="360.50" cy="70.00" r="1.25" fill="#62b6ee"/>
<circle cx="375.00" cy="63.60" r="1.25" fill="#62b6ee"/>
<circle cx="389.60" cy="50.60" r="1.25" fill="#62b6ee"/>
<circle cx="404.30" cy="32.30" r="1.25" fill="#62b6ee"/>
<text x="371.30" y="59.40" font-size="7.5" text-anchor="middle" fill="#111" font-weight="bold" stroke="#111" stroke-width="0.22">*</text>
<text x="390.70" y="44.50" font-size="7.5" text-anchor="middle" fill="#111" font-weight="bold" stroke="#111" stroke-width="0.22">**</text>
<text x="405.80" y="27.20" font-size="7.5" text-anchor="middle" fill="#111" font-weight="bold" stroke="#111" stroke-width="0.22">***</text>
<text x="403.70" y="49.60" font-size="7.5" text-anchor="middle" fill="#111" font-weight="bold" stroke="#111" stroke-width="0.22">*</text>
<text x="0" y="0" font-size="9.4" text-anchor="middle" fill="#111" font-weight="bold" stroke="#111" stroke-width="0.1" textLength="45.4" lengthAdjust="spacingAndGlyphs" transform="translate(312.18 46.80) rotate(-90)">Cell number</text>
<text x="343.00" y="23.69" font-size="7.2" text-anchor="start" fill="#111" font-weight="bold" stroke="#111" stroke-width="0.22" textLength="29.9" lengthAdjust="spacingAndGlyphs" >Transwell</text>
<path d="M344.3,31 L344.3,45.5 M366.8,31 L366.8,45.5" stroke="#b8b8b8" stroke-width="0.6"/>
<rect x="344.9" y="42.3" width="20.6" height="2.9" rx="0.8" fill="#a52232"/>
<circle cx="346.2" cy="43.75" r="0.55" fill="#e07080"/>
<circle cx="348.5" cy="43.75" r="0.55" fill="#e07080"/>
<circle cx="350.8" cy="43.75" r="0.55" fill="#e07080"/>
<circle cx="353.1" cy="43.75" r="0.55" fill="#e07080"/>
<circle cx="355.4" cy="43.75" r="0.55" fill="#e07080"/>
<circle cx="357.7" cy="43.75" r="0.55" fill="#e07080"/>
<circle cx="360.0" cy="43.75" r="0.55" fill="#e07080"/>
<circle cx="362.3" cy="43.75" r="0.55" fill="#e07080"/>
<circle cx="364.6" cy="43.75" r="0.55" fill="#e07080"/>
<line x1="348.4" y1="38.5" x2="362.4" y2="38.5" stroke="#f2b8c8" stroke-width="0.9"/>
<path d="M348.4,36.0 Q355.4,38.6 362.4,36.0" fill="none" stroke="#3c4cc8" stroke-width="1.5"/>
<ellipse cx="350.0" cy="36.30" rx="0.9" ry="0.6" fill="#8a96ee"/>
<ellipse cx="352.2" cy="36.83" rx="0.9" ry="0.6" fill="#8a96ee"/>
<ellipse cx="354.4" cy="37.16" rx="0.9" ry="0.6" fill="#8a96ee"/>
<ellipse cx="356.6" cy="37.16" rx="0.9" ry="0.6" fill="#8a96ee"/>
<ellipse cx="358.8" cy="36.83" rx="0.9" ry="0.6" fill="#8a96ee"/>
<ellipse cx="361.0" cy="36.30" rx="0.9" ry="0.6" fill="#8a96ee"/>
<path d="M343.2,28.2 L345.6,28.2 L348.1,39.2 L362.8,39.2 L365.3,28.2 L368.7,28.2" fill="none" stroke="#6a6a6a" stroke-width="0.9" stroke-linejoin="round"/>
<line x1="441.80" y1="18.50" x2="441.80" y2="81.00" stroke="#505050" stroke-width="0.95" />
<line x1="441.30" y1="80.50" x2="512.30" y2="80.50" stroke="#505050" stroke-width="0.95" />
<line x1="440.20" y1="24.50" x2="441.80" y2="24.50" stroke="#222" stroke-width="0.6" />
<text x="439.60" y="26.70" font-size="6.1" text-anchor="end" fill="#111" font-weight="bold" stroke="#111" stroke-width="0.12" textLength="19.0" lengthAdjust="spacingAndGlyphs" >1.2×10<tspan dy="-2" font-size="3">6</tspan></text>
<line x1="440.20" y1="38.50" x2="441.80" y2="38.50" stroke="#222" stroke-width="0.6" />
<text x="439.60" y="40.70" font-size="6.1" text-anchor="end" fill="#111" font-weight="bold" stroke="#111" stroke-width="0.12" textLength="19.0" lengthAdjust="spacingAndGlyphs" >9.0×10<tspan dy="-2" font-size="3">5</tspan></text>
<line x1="440.20" y1="52.50" x2="441.80" y2="52.50" stroke="#222" stroke-width="0.6" />
<text x="439.60" y="54.70" font-size="6.1" text-anchor="end" fill="#111" font-weight="bold" stroke="#111" stroke-width="0.12" textLength="19.0" lengthAdjust="spacingAndGlyphs" >6.0×10<tspan dy="-2" font-size="3">5</tspan></text>
<line x1="440.20" y1="66.50" x2="441.80" y2="66.50" stroke="#222" stroke-width="0.6" />
<text x="439.60" y="68.70" font-size="6.1" text-anchor="end" fill="#111" font-weight="bold" stroke="#111" stroke-width="0.12" textLength="19.0" lengthAdjust="spacingAndGlyphs" >3.0×10<tspan dy="-2" font-size="3">5</tspan></text>
<line x1="440.20" y1="80.50" x2="441.80" y2="80.50" stroke="#222" stroke-width="0.6" />
<text x="439.60" y="82.70" font-size="6.1" text-anchor="end" fill="#111" font-weight="bold" stroke="#111" stroke-width="0.12" >0</text>
<line x1="448.70" y1="80.50" x2="448.70" y2="82.10" stroke="#222" stroke-width="0.6" />
<text x="448.70" y="87.82" font-size="5.6" text-anchor="middle" fill="#111" font-weight="bold" stroke="#111" stroke-width="0.12" >0</text>
<line x1="462.70" y1="80.50" x2="462.70" y2="82.10" stroke="#222" stroke-width="0.6" />
<text x="462.70" y="87.82" font-size="5.6" text-anchor="middle" fill="#111" font-weight="bold" stroke="#111" stroke-width="0.12" >1</text>
<line x1="477.40" y1="80.50" x2="477.40" y2="82.10" stroke="#222" stroke-width="0.6" />
<text x="477.40" y="87.82" font-size="5.6" text-anchor="middle" fill="#111" font-weight="bold" stroke="#111" stroke-width="0.12" >2</text>
<line x1="492.00" y1="80.50" x2="492.00" y2="82.10" stroke="#222" stroke-width="0.6" />
<text x="492.00" y="87.82" font-size="5.6" text-anchor="middle" fill="#111" font-weight="bold" stroke="#111" stroke-width="0.12" >3</text>
<line x1="506.20" y1="80.50" x2="506.20" y2="82.10" stroke="#222" stroke-width="0.6" />
<text x="506.20" y="87.82" font-size="5.6" text-anchor="middle" fill="#111" font-weight="bold" stroke="#111" stroke-width="0.12" >4</text>
<text x="477.40" y="95.99" font-size="7.2" text-anchor="middle" fill="#111" font-weight="bold" stroke="#111" stroke-width="0.22" textLength="13.9" lengthAdjust="spacingAndGlyphs" >Days</text>
<text x="475.50" y="9.10" font-size="10.0" text-anchor="middle" fill="#111" font-weight="bold" stroke="#111" stroke-width="0.22" textLength="37" lengthAdjust="spacingAndGlyphs" >SK-N-BE2</text>
<line x1="492.00" y1="59.00" x2="492.00" y2="63.00" stroke="#e3263f" stroke-width="0.5" stroke-opacity="0.55"/>
<line x1="491.00" y1="59.00" x2="493.00" y2="59.00" stroke="#e3263f" stroke-width="0.5" stroke-opacity="0.55"/>
<line x1="506.20" y1="46.40" x2="506.20" y2="54.40" stroke="#e3263f" stroke-width="0.5" stroke-opacity="0.55"/>
<line x1="505.20" y1="46.40" x2="507.20" y2="46.40" stroke="#e3263f" stroke-width="0.5" stroke-opacity="0.55"/>
<polyline points="448.70,75.60 462.70,73.30 477.40,67.40 492.00,61.00 506.20,50.40" fill="none" stroke="#e3263f" stroke-width="1.25" stroke-linejoin="round"/>
<circle cx="448.70" cy="75.60" r="1.25" fill="#e3263f"/>
<circle cx="462.70" cy="73.30" r="1.25" fill="#e3263f"/>
<circle cx="477.40" cy="67.40" r="1.25" fill="#e3263f"/>
<circle cx="492.00" cy="61.00" r="1.25" fill="#e3263f"/>
<circle cx="506.20" cy="50.40" r="1.25" fill="#e3263f"/>
<line x1="492.00" y1="53.50" x2="492.00" y2="57.50" stroke="#b541dd" stroke-width="0.5" stroke-opacity="0.55"/>
<line x1="491.00" y1="53.50" x2="493.00" y2="53.50" stroke="#b541dd" stroke-width="0.5" stroke-opacity="0.55"/>
<line x1="506.20" y1="39.00" x2="506.20" y2="45.00" stroke="#b541dd" stroke-width="0.5" stroke-opacity="0.55"/>
<line x1="505.20" y1="39.00" x2="507.20" y2="39.00" stroke="#b541dd" stroke-width="0.5" stroke-opacity="0.55"/>
<polyline points="448.70,75.60 462.70,72.50 477.40,67.40 492.00,55.50 506.20,42.00" fill="none" stroke="#b541dd" stroke-width="1.25" stroke-linejoin="round"/>
<circle cx="448.70" cy="75.60" r="1.25" fill="#b541dd"/>
<circle cx="462.70" cy="72.50" r="1.25" fill="#b541dd"/>
<circle cx="477.40" cy="67.40" r="1.25" fill="#b541dd"/>
<circle cx="492.00" cy="55.50" r="1.25" fill="#b541dd"/>
<circle cx="506.20" cy="42.00" r="1.25" fill="#b541dd"/>
<polyline points="448.70,75.60 462.70,70.50 477.40,61.00 492.00,45.50 506.20,28.50" fill="none" stroke="#1d2e9e" stroke-width="1.25" stroke-linejoin="round"/>
<circle cx="448.70" cy="75.60" r="1.25" fill="#1d2e9e"/>
<circle cx="462.70" cy="70.50" r="1.25" fill="#1d2e9e"/>
<circle cx="477.40" cy="61.00" r="1.25" fill="#1d2e9e"/>
<circle cx="492.00" cy="45.50" r="1.25" fill="#1d2e9e"/>
<circle cx="506.20" cy="28.50" r="1.25" fill="#1d2e9e"/>
<line x1="477.40" y1="58.50" x2="477.40" y2="62.50" stroke="#62b6ee" stroke-width="0.5" stroke-opacity="0.55"/>
<line x1="476.40" y1="58.50" x2="478.40" y2="58.50" stroke="#62b6ee" stroke-width="0.5" stroke-opacity="0.55"/>
<line x1="492.00" y1="43.00" x2="492.00" y2="47.00" stroke="#62b6ee" stroke-width="0.5" stroke-opacity="0.55"/>
<line x1="491.00" y1="43.00" x2="493.00" y2="43.00" stroke="#62b6ee" stroke-width="0.5" stroke-opacity="0.55"/>
<line x1="506.20" y1="20.90" x2="506.20" y2="24.90" stroke="#62b6ee" stroke-width="0.5" stroke-opacity="0.55"/>
<line x1="505.20" y1="20.90" x2="507.20" y2="20.90" stroke="#62b6ee" stroke-width="0.5" stroke-opacity="0.55"/>
<polyline points="448.70,75.60 462.70,70.00 477.40,60.50 492.00,45.00 506.20,22.90" fill="none" stroke="#62b6ee" stroke-width="1.25" stroke-linejoin="round"/>
<circle cx="448.70" cy="75.60" r="1.25" fill="#62b6ee"/>
<circle cx="462.70" cy="70.00" r="1.25" fill="#62b6ee"/>
<circle cx="477.40" cy="60.50" r="1.25" fill="#62b6ee"/>
<circle cx="492.00" cy="45.00" r="1.25" fill="#62b6ee"/>
<circle cx="506.20" cy="22.90" r="1.25" fill="#62b6ee"/>
<text x="476.70" y="56.60" font-size="7.5" text-anchor="middle" fill="#111" font-weight="bold" stroke="#111" stroke-width="0.22">*</text>
<text x="491.40" y="41.40" font-size="7.5" text-anchor="middle" fill="#111" font-weight="bold" stroke="#111" stroke-width="0.22">***</text>
<text x="505.40" y="19.70" font-size="7.5" text-anchor="middle" fill="#111" font-weight="bold" stroke="#111" stroke-width="0.22">***</text>
<line x1="111.80" y1="120.00" x2="111.80" y2="181.50" stroke="#505050" stroke-width="0.95" />
<line x1="111.30" y1="181.00" x2="187.60" y2="181.00" stroke="#505050" stroke-width="0.95" />
<line x1="110.20" y1="122.80" x2="111.80" y2="122.80" stroke="#222" stroke-width="0.6" />
<text x="109.60" y="125.00" font-size="6.1" text-anchor="end" fill="#111" font-weight="bold" stroke="#111" stroke-width="0.12" textLength="19.0" lengthAdjust="spacingAndGlyphs" >2.0×10<tspan dy="-2" font-size="3">7</tspan></text>
<line x1="110.20" y1="137.30" x2="111.80" y2="137.30" stroke="#222" stroke-width="0.6" />
<text x="109.60" y="139.50" font-size="6.1" text-anchor="end" fill="#111" font-weight="bold" stroke="#111" stroke-width="0.12" textLength="19.0" lengthAdjust="spacingAndGlyphs" >1.5×10<tspan dy="-2" font-size="3">7</tspan></text>
<line x1="110.20" y1="151.90" x2="111.80" y2="151.90" stroke="#222" stroke-width="0.6" />
<text x="109.60" y="154.10" font-size="6.1" text-anchor="end" fill="#111" font-weight="bold" stroke="#111" stroke-width="0.12" textLength="19.0" lengthAdjust="spacingAndGlyphs" >1.0×10<tspan dy="-2" font-size="3">7</tspan></text>
<line x1="110.20" y1="166.50" x2="111.80" y2="166.50" stroke="#222" stroke-width="0.6" />
<text x="109.60" y="168.70" font-size="6.1" text-anchor="end" fill="#111" font-weight="bold" stroke="#111" stroke-width="0.12" textLength="19.0" lengthAdjust="spacingAndGlyphs" >5.0×10<tspan dy="-2" font-size="3">6</tspan></text>
<line x1="110.20" y1="180.80" x2="111.80" y2="180.80" stroke="#222" stroke-width="0.6" />
<text x="109.60" y="183.00" font-size="6.1" text-anchor="end" fill="#111" font-weight="bold" stroke="#111" stroke-width="0.12" >0</text>
<line x1="119.20" y1="181.00" x2="119.20" y2="182.60" stroke="#222" stroke-width="0.6" />
<text x="119.20" y="190.42" font-size="5.6" text-anchor="middle" fill="#111" font-weight="bold" stroke="#111" stroke-width="0.12" >0</text>
<line x1="134.50" y1="181.00" x2="134.50" y2="182.60" stroke="#222" stroke-width="0.6" />
<text x="134.50" y="190.42" font-size="5.6" text-anchor="middle" fill="#111" font-weight="bold" stroke="#111" stroke-width="0.12" >1</text>
<line x1="149.50" y1="181.00" x2="149.50" y2="182.60" stroke="#222" stroke-width="0.6" />
<text x="149.50" y="190.42" font-size="5.6" text-anchor="middle" fill="#111" font-weight="bold" stroke="#111" stroke-width="0.12" >2</text>
<line x1="164.50" y1="181.00" x2="164.50" y2="182.60" stroke="#222" stroke-width="0.6" />
<text x="164.50" y="190.42" font-size="5.6" text-anchor="middle" fill="#111" font-weight="bold" stroke="#111" stroke-width="0.12" >3</text>
<line x1="179.50" y1="181.00" x2="179.50" y2="182.60" stroke="#222" stroke-width="0.6" />
<text x="179.50" y="190.42" font-size="5.6" text-anchor="middle" fill="#111" font-weight="bold" stroke="#111" stroke-width="0.12" >4</text>
<text x="150.44" y="199.59" font-size="7.2" text-anchor="middle" fill="#111" font-weight="bold" stroke="#111" stroke-width="0.22" textLength="13.9" lengthAdjust="spacingAndGlyphs" >Days</text>
<text x="146.80" y="114.80" font-size="10.0" text-anchor="middle" fill="#111" font-weight="bold" stroke="#111" stroke-width="0.22" textLength="36.7" lengthAdjust="spacingAndGlyphs" >CHLA-255</text>
<line x1="179.50" y1="151.50" x2="179.50" y2="154.50" stroke="#e3263f" stroke-width="0.5" stroke-opacity="0.55"/>
<line x1="178.50" y1="151.50" x2="180.50" y2="151.50" stroke="#e3263f" stroke-width="0.5" stroke-opacity="0.55"/>
<polyline points="119.20,168.70 134.50,165.00 149.50,158.20 164.50,155.70 179.50,153.00" fill="none" stroke="#e3263f" stroke-width="1.25" stroke-linejoin="round"/>
<circle cx="119.20" cy="168.70" r="1.25" fill="#e3263f"/>
<circle cx="134.50" cy="165.00" r="1.25" fill="#e3263f"/>
<circle cx="149.50" cy="158.20" r="1.25" fill="#e3263f"/>
<circle cx="164.50" cy="155.70" r="1.25" fill="#e3263f"/>
<circle cx="179.50" cy="153.00" r="1.25" fill="#e3263f"/>
<line x1="164.50" y1="148.00" x2="164.50" y2="152.00" stroke="#b541dd" stroke-width="0.5" stroke-opacity="0.55"/>
<line x1="163.50" y1="148.00" x2="165.50" y2="148.00" stroke="#b541dd" stroke-width="0.5" stroke-opacity="0.55"/>
<line x1="179.50" y1="142.50" x2="179.50" y2="146.50" stroke="#b541dd" stroke-width="0.5" stroke-opacity="0.55"/>
<line x1="178.50" y1="142.50" x2="180.50" y2="142.50" stroke="#b541dd" stroke-width="0.5" stroke-opacity="0.55"/>
<polyline points="119.20,168.70 134.50,165.00 149.50,152.50 164.50,150.00 179.50,144.50" fill="none" stroke="#b541dd" stroke-width="1.25" stroke-linejoin="round"/>
<circle cx="119.20" cy="168.70" r="1.25" fill="#b541dd"/>
<circle cx="134.50" cy="165.00" r="1.25" fill="#b541dd"/>
<circle cx="149.50" cy="152.50" r="1.25" fill="#b541dd"/>
<circle cx="164.50" cy="150.00" r="1.25" fill="#b541dd"/>
<circle cx="179.50" cy="144.50" r="1.25" fill="#b541dd"/>
<polyline points="119.20,168.00 134.50,163.20 149.50,152.00 164.50,139.20 179.50,133.00" fill="none" stroke="#1d2e9e" stroke-width="1.25" stroke-linejoin="round"/>
<circle cx="119.20" cy="168.00" r="1.25" fill="#1d2e9e"/>
<circle cx="134.50" cy="163.20" r="1.25" fill="#1d2e9e"/>
<circle cx="149.50" cy="152.00" r="1.25" fill="#1d2e9e"/>
<circle cx="164.50" cy="139.20" r="1.25" fill="#1d2e9e"/>
<circle cx="179.50" cy="133.00" r="1.25" fill="#1d2e9e"/>
<line x1="149.50" y1="146.20" x2="149.50" y2="156.20" stroke="#62b6ee" stroke-width="0.5" stroke-opacity="0.55"/>
<line x1="148.50" y1="146.20" x2="150.50" y2="146.20" stroke="#62b6ee" stroke-width="0.5" stroke-opacity="0.55"/>
<line x1="164.50" y1="135.00" x2="164.50" y2="139.00" stroke="#62b6ee" stroke-width="0.5" stroke-opacity="0.55"/>
<line x1="163.50" y1="135.00" x2="165.50" y2="135.00" stroke="#62b6ee" stroke-width="0.5" stroke-opacity="0.55"/>
<line x1="179.50" y1="127.20" x2="179.50" y2="131.20" stroke="#62b6ee" stroke-width="0.5" stroke-opacity="0.55"/>
<line x1="178.50" y1="127.20" x2="180.50" y2="127.20" stroke="#62b6ee" stroke-width="0.5" stroke-opacity="0.55"/>
<polyline points="119.20,167.50 134.50,162.50 149.50,151.20 164.50,137.00 179.50,129.20" fill="none" stroke="#62b6ee" stroke-width="1.25" stroke-linejoin="round"/>
<circle cx="119.20" cy="167.50" r="1.25" fill="#62b6ee"/>
<circle cx="134.50" cy="162.50" r="1.25" fill="#62b6ee"/>
<circle cx="149.50" cy="151.20" r="1.25" fill="#62b6ee"/>
<circle cx="164.50" cy="137.00" r="1.25" fill="#62b6ee"/>
<circle cx="179.50" cy="129.20" r="1.25" fill="#62b6ee"/>
<text x="148.80" y="148.20" font-size="7.5" text-anchor="middle" fill="#111" font-weight="bold" stroke="#111" stroke-width="0.22">*</text>
<text x="165.00" y="134.20" font-size="7.5" text-anchor="middle" fill="#111" font-weight="bold" stroke="#111" stroke-width="0.22">***</text>
<text x="179.50" y="125.20" font-size="7.5" text-anchor="middle" fill="#111" font-weight="bold" stroke="#111" stroke-width="0.22">***</text>
<text x="180.60" y="143.20" font-size="7.5" text-anchor="middle" fill="#111" font-weight="bold" stroke="#111" stroke-width="0.22">*</text>
<text x="0" y="0" font-size="7.9" text-anchor="middle" fill="#111" font-weight="bold" stroke="#111" stroke-width="0.1" textLength="48" lengthAdjust="spacingAndGlyphs" transform="translate(75.84 147.70) rotate(-90)">Luminescence</text>
<text x="0" y="0" font-size="7.9" text-anchor="middle" fill="#111" font-weight="bold" stroke="#111" stroke-width="0.1" textLength="44.6" lengthAdjust="spacingAndGlyphs" transform="translate(84.54 146.90) rotate(-90)">activity (RLU)</text>
<line x1="113.00" y1="121.90" x2="119.00" y2="121.90" stroke="#e3263f" stroke-width="0.9" />
<circle cx="116" cy="121.9" r="1.0" fill="#e3263f"/>
<text x="120.40" y="123.77" font-size="5.2" text-anchor="start" fill="#222" >NB</text>
<line x1="113.00" y1="128.80" x2="119.00" y2="128.80" stroke="#62b6ee" stroke-width="0.9" />
<circle cx="116" cy="128.8" r="1.0" fill="#62b6ee"/>
<text x="120.40" y="130.67" font-size="5.2" text-anchor="start" fill="#222" >NB/CAF-MSC CM</text>
<line x1="113.00" y1="135.70" x2="119.00" y2="135.70" stroke="#1d2e9e" stroke-width="0.9" />
<circle cx="116" cy="135.70000000000002" r="1.0" fill="#1d2e9e"/>
<text x="120.40" y="137.57" font-size="5.2" text-anchor="start" fill="#222" >NB/BM-MSC CM</text>
<line x1="113.00" y1="142.60" x2="119.00" y2="142.60" stroke="#b541dd" stroke-width="0.9" />
<circle cx="116" cy="142.60000000000002" r="1.0" fill="#b541dd"/>
<text x="120.40" y="144.47" font-size="5.2" text-anchor="start" fill="#222" >NB/Fb CM</text>
<line x1="218.20" y1="120.00" x2="218.20" y2="181.50" stroke="#505050" stroke-width="0.95" />
<line x1="217.70" y1="181.00" x2="295.00" y2="181.00" stroke="#505050" stroke-width="0.95" />
<line x1="216.60" y1="122.80" x2="218.20" y2="122.80" stroke="#222" stroke-width="0.6" />
<text x="216.00" y="125.00" font-size="6.1" text-anchor="end" fill="#111" font-weight="bold" stroke="#111" stroke-width="0.12" textLength="19.0" lengthAdjust="spacingAndGlyphs" >2.0×10<tspan dy="-2" font-size="3">7</tspan></text>
<line x1="216.60" y1="137.30" x2="218.20" y2="137.30" stroke="#222" stroke-width="0.6" />
<text x="216.00" y="139.50" font-size="6.1" text-anchor="end" fill="#111" font-weight="bold" stroke="#111" stroke-width="0.12" textLength="19.0" lengthAdjust="spacingAndGlyphs" >1.5×10<tspan dy="-2" font-size="3">7</tspan></text>
<line x1="216.60" y1="151.90" x2="218.20" y2="151.90" stroke="#222" stroke-width="0.6" />
<text x="216.00" y="154.10" font-size="6.1" text-anchor="end" fill="#111" font-weight="bold" stroke="#111" stroke-width="0.12" textLength="19.0" lengthAdjust="spacingAndGlyphs" >1.0×10<tspan dy="-2" font-size="3">7</tspan></text>
<line x1="216.60" y1="166.50" x2="218.20" y2="166.50" stroke="#222" stroke-width="0.6" />
<text x="216.00" y="168.70" font-size="6.1" text-anchor="end" fill="#111" font-weight="bold" stroke="#111" stroke-width="0.12" textLength="19.0" lengthAdjust="spacingAndGlyphs" >5.0×10<tspan dy="-2" font-size="3">6</tspan></text>
<line x1="216.60" y1="180.80" x2="218.20" y2="180.80" stroke="#222" stroke-width="0.6" />
<text x="216.00" y="183.00" font-size="6.1" text-anchor="end" fill="#111" font-weight="bold" stroke="#111" stroke-width="0.12" >0</text>
<line x1="225.30" y1="181.00" x2="225.30" y2="182.60" stroke="#222" stroke-width="0.6" />
<text x="225.30" y="190.62" font-size="5.6" text-anchor="middle" fill="#111" font-weight="bold" stroke="#111" stroke-width="0.12" >0</text>
<line x1="240.60" y1="181.00" x2="240.60" y2="182.60" stroke="#222" stroke-width="0.6" />
<text x="240.60" y="190.62" font-size="5.6" text-anchor="middle" fill="#111" font-weight="bold" stroke="#111" stroke-width="0.12" >1</text>
<line x1="255.80" y1="181.00" x2="255.80" y2="182.60" stroke="#222" stroke-width="0.6" />
<text x="255.80" y="190.62" font-size="5.6" text-anchor="middle" fill="#111" font-weight="bold" stroke="#111" stroke-width="0.12" >2</text>
<line x1="270.80" y1="181.00" x2="270.80" y2="182.60" stroke="#222" stroke-width="0.6" />
<text x="270.80" y="190.62" font-size="5.6" text-anchor="middle" fill="#111" font-weight="bold" stroke="#111" stroke-width="0.12" >3</text>
<line x1="286.00" y1="181.00" x2="286.00" y2="182.60" stroke="#222" stroke-width="0.6" />
<text x="286.00" y="190.62" font-size="5.6" text-anchor="middle" fill="#111" font-weight="bold" stroke="#111" stroke-width="0.12" >4</text>
<text x="257.00" y="199.59" font-size="7.2" text-anchor="middle" fill="#111" font-weight="bold" stroke="#111" stroke-width="0.22" textLength="13.9" lengthAdjust="spacingAndGlyphs" >Days</text>
<text x="257.10" y="115.40" font-size="10.0" text-anchor="middle" fill="#111" font-weight="bold" stroke="#111" stroke-width="0.22" textLength="32.3" lengthAdjust="spacingAndGlyphs" >SK-N-SH</text>
<line x1="286.00" y1="154.10" x2="286.00" y2="157.10" stroke="#e3263f" stroke-width="0.5" stroke-opacity="0.55"/>
<line x1="285.00" y1="154.10" x2="287.00" y2="154.10" stroke="#e3263f" stroke-width="0.5" stroke-opacity="0.55"/>
<polyline points="225.30,172.70 240.60,170.20 255.80,165.80 270.80,162.50 286.00,155.60" fill="none" stroke="#e3263f" stroke-width="1.25" stroke-linejoin="round"/>
<circle cx="225.30" cy="172.70" r="1.25" fill="#e3263f"/>
<circle cx="240.60" cy="170.20" r="1.25" fill="#e3263f"/>
<circle cx="255.80" cy="165.80" r="1.25" fill="#e3263f"/>
<circle cx="270.80" cy="162.50" r="1.25" fill="#e3263f"/>
<circle cx="286.00" cy="155.60" r="1.25" fill="#e3263f"/>
<line x1="270.80" y1="154.70" x2="270.80" y2="158.70" stroke="#b541dd" stroke-width="0.5" stroke-opacity="0.55"/>
<line x1="269.80" y1="154.70" x2="271.80" y2="154.70" stroke="#b541dd" stroke-width="0.5" stroke-opacity="0.55"/>
<line x1="286.00" y1="147.80" x2="286.00" y2="151.80" stroke="#b541dd" stroke-width="0.5" stroke-opacity="0.55"/>
<line x1="285.00" y1="147.80" x2="287.00" y2="147.80" stroke="#b541dd" stroke-width="0.5" stroke-opacity="0.55"/>
<polyline points="225.30,172.70 240.60,170.20 255.80,163.80 270.80,156.70 286.00,149.80" fill="none" stroke="#b541dd" stroke-width="1.25" stroke-linejoin="round"/>
<circle cx="225.30" cy="172.70" r="1.25" fill="#b541dd"/>
<circle cx="240.60" cy="170.20" r="1.25" fill="#b541dd"/>
<circle cx="255.80" cy="163.80" r="1.25" fill="#b541dd"/>
<circle cx="270.80" cy="156.70" r="1.25" fill="#b541dd"/>
<circle cx="286.00" cy="149.80" r="1.25" fill="#b541dd"/>
<polyline points="225.30,172.70 240.60,170.20 255.80,162.50 270.80,149.80 286.00,139.60" fill="none" stroke="#1d2e9e" stroke-width="1.25" stroke-linejoin="round"/>
<circle cx="225.30" cy="172.70" r="1.25" fill="#1d2e9e"/>
<circle cx="240.60" cy="170.20" r="1.25" fill="#1d2e9e"/>
<circle cx="255.80" cy="162.50" r="1.25" fill="#1d2e9e"/>
<circle cx="270.80" cy="149.80" r="1.25" fill="#1d2e9e"/>
<circle cx="286.00" cy="139.60" r="1.25" fill="#1d2e9e"/>
<line x1="255.80" y1="159.70" x2="255.80" y2="161.70" stroke="#62b6ee" stroke-width="0.5" stroke-opacity="0.55"/>
<line x1="254.80" y1="159.70" x2="256.80" y2="159.70" stroke="#62b6ee" stroke-width="0.5" stroke-opacity="0.55"/>
<line x1="270.80" y1="145.00" x2="270.80" y2="153.00" stroke="#62b6ee" stroke-width="0.5" stroke-opacity="0.55"/>
<line x1="269.80" y1="145.00" x2="271.80" y2="145.00" stroke="#62b6ee" stroke-width="0.5" stroke-opacity="0.55"/>
<line x1="286.00" y1="135.80" x2="286.00" y2="139.80" stroke="#62b6ee" stroke-width="0.5" stroke-opacity="0.55"/>
<line x1="285.00" y1="135.80" x2="287.00" y2="135.80" stroke="#62b6ee" stroke-width="0.5" stroke-opacity="0.55"/>
<polyline points="225.30,172.70 240.60,170.20 255.80,160.70 270.80,149.00 286.00,137.80" fill="none" stroke="#62b6ee" stroke-width="1.25" stroke-linejoin="round"/>
<circle cx="225.30" cy="172.70" r="1.25" fill="#62b6ee"/>
<circle cx="240.60" cy="170.20" r="1.25" fill="#62b6ee"/>
<circle cx="255.80" cy="160.70" r="1.25" fill="#62b6ee"/>
<circle cx="270.80" cy="149.00" r="1.25" fill="#62b6ee"/>
<circle cx="286.00" cy="137.80" r="1.25" fill="#62b6ee"/>
<text x="254.60" y="157.20" font-size="7.5" text-anchor="middle" fill="#111" font-weight="bold" stroke="#111" stroke-width="0.22">*</text>
<text x="271.00" y="141.50" font-size="7.5" text-anchor="middle" fill="#111" font-weight="bold" stroke="#111" stroke-width="0.22">**</text>
<text x="284.30" y="132.60" font-size="7.5" text-anchor="middle" fill="#111" font-weight="bold" stroke="#111" stroke-width="0.22">***</text>
<line x1="338.40" y1="120.00" x2="338.40" y2="181.50" stroke="#505050" stroke-width="0.95" />
<line x1="337.90" y1="181.00" x2="411.30" y2="181.00" stroke="#505050" stroke-width="0.95" />
<line x1="336.80" y1="122.80" x2="338.40" y2="122.80" stroke="#222" stroke-width="0.6" />
<text x="336.20" y="125.00" font-size="6.1" text-anchor="end" fill="#111" font-weight="bold" stroke="#111" stroke-width="0.12" textLength="19.0" lengthAdjust="spacingAndGlyphs" >4.0×10<tspan dy="-2" font-size="3">7</tspan></text>
<line x1="336.80" y1="137.30" x2="338.40" y2="137.30" stroke="#222" stroke-width="0.6" />
<text x="336.20" y="139.50" font-size="6.1" text-anchor="end" fill="#111" font-weight="bold" stroke="#111" stroke-width="0.12" textLength="19.0" lengthAdjust="spacingAndGlyphs" >3.0×10<tspan dy="-2" font-size="3">7</tspan></text>
<line x1="336.80" y1="151.90" x2="338.40" y2="151.90" stroke="#222" stroke-width="0.6" />
<text x="336.20" y="154.10" font-size="6.1" text-anchor="end" fill="#111" font-weight="bold" stroke="#111" stroke-width="0.12" textLength="19.0" lengthAdjust="spacingAndGlyphs" >2.0×10<tspan dy="-2" font-size="3">7</tspan></text>
<line x1="336.80" y1="166.50" x2="338.40" y2="166.50" stroke="#222" stroke-width="0.6" />
<text x="336.20" y="168.70" font-size="6.1" text-anchor="end" fill="#111" font-weight="bold" stroke="#111" stroke-width="0.12" textLength="19.0" lengthAdjust="spacingAndGlyphs" >1.0×10<tspan dy="-2" font-size="3">7</tspan></text>
<line x1="336.80" y1="180.80" x2="338.40" y2="180.80" stroke="#222" stroke-width="0.6" />
<text x="336.20" y="183.00" font-size="6.1" text-anchor="end" fill="#111" font-weight="bold" stroke="#111" stroke-width="0.12" >0</text>
<line x1="345.30" y1="181.00" x2="345.30" y2="182.60" stroke="#222" stroke-width="0.6" />
<text x="345.30" y="190.62" font-size="5.6" text-anchor="middle" fill="#111" font-weight="bold" stroke="#111" stroke-width="0.12" >0</text>
<line x1="359.80" y1="181.00" x2="359.80" y2="182.60" stroke="#222" stroke-width="0.6" />
<text x="359.80" y="190.62" font-size="5.6" text-anchor="middle" fill="#111" font-weight="bold" stroke="#111" stroke-width="0.12" >1</text>
<line x1="374.60" y1="181.00" x2="374.60" y2="182.60" stroke="#222" stroke-width="0.6" />
<text x="374.60" y="190.62" font-size="5.6" text-anchor="middle" fill="#111" font-weight="bold" stroke="#111" stroke-width="0.12" >2</text>
<line x1="389.00" y1="181.00" x2="389.00" y2="182.60" stroke="#222" stroke-width="0.6" />
<text x="389.00" y="190.62" font-size="5.6" text-anchor="middle" fill="#111" font-weight="bold" stroke="#111" stroke-width="0.12" >3</text>
<line x1="403.80" y1="181.00" x2="403.80" y2="182.60" stroke="#222" stroke-width="0.6" />
<text x="403.80" y="190.62" font-size="5.6" text-anchor="middle" fill="#111" font-weight="bold" stroke="#111" stroke-width="0.12" >4</text>
<text x="376.10" y="199.19" font-size="7.2" text-anchor="middle" fill="#111" font-weight="bold" stroke="#111" stroke-width="0.22" textLength="13.9" lengthAdjust="spacingAndGlyphs" >Days</text>
<text x="376.40" y="115.40" font-size="10.0" text-anchor="middle" fill="#111" font-weight="bold" stroke="#111" stroke-width="0.22" textLength="37.2" lengthAdjust="spacingAndGlyphs" >SK-N-BE2</text>
<line x1="403.80" y1="139.40" x2="403.80" y2="142.40" stroke="#e3263f" stroke-width="0.5" stroke-opacity="0.55"/>
<line x1="402.80" y1="139.40" x2="404.80" y2="139.40" stroke="#e3263f" stroke-width="0.5" stroke-opacity="0.55"/>
<polyline points="345.30,167.00 359.80,163.00 374.60,158.20 389.00,156.70 403.80,140.90" fill="none" stroke="#e3263f" stroke-width="1.25" stroke-linejoin="round"/>
<circle cx="345.30" cy="167.00" r="1.25" fill="#e3263f"/>
<circle cx="359.80" cy="163.00" r="1.25" fill="#e3263f"/>
<circle cx="374.60" cy="158.20" r="1.25" fill="#e3263f"/>
<circle cx="389.00" cy="156.70" r="1.25" fill="#e3263f"/>
<circle cx="403.80" cy="140.90" r="1.25" fill="#e3263f"/>
<line x1="403.80" y1="135.80" x2="403.80" y2="139.80" stroke="#b541dd" stroke-width="0.5" stroke-opacity="0.55"/>
<line x1="402.80" y1="135.80" x2="404.80" y2="135.80" stroke="#b541dd" stroke-width="0.5" stroke-opacity="0.55"/>
<polyline points="345.30,166.50 359.80,160.00 374.60,156.70 389.00,154.90 403.80,137.80" fill="none" stroke="#b541dd" stroke-width="1.25" stroke-linejoin="round"/>
<circle cx="345.30" cy="166.50" r="1.25" fill="#b541dd"/>
<circle cx="359.80" cy="160.00" r="1.25" fill="#b541dd"/>
<circle cx="374.60" cy="156.70" r="1.25" fill="#b541dd"/>
<circle cx="389.00" cy="154.90" r="1.25" fill="#b541dd"/>
<circle cx="403.80" cy="137.80" r="1.25" fill="#b541dd"/>
<polyline points="345.30,165.80 359.80,158.70 374.60,153.10 389.00,149.80 403.80,126.90" fill="none" stroke="#1d2e9e" stroke-width="1.25" stroke-linejoin="round"/>
<circle cx="345.30" cy="165.80" r="1.25" fill="#1d2e9e"/>
<circle cx="359.80" cy="158.70" r="1.25" fill="#1d2e9e"/>
<circle cx="374.60" cy="153.10" r="1.25" fill="#1d2e9e"/>
<circle cx="389.00" cy="149.80" r="1.25" fill="#1d2e9e"/>
<circle cx="403.80" cy="126.90" r="1.25" fill="#1d2e9e"/>
<line x1="403.80" y1="124.00" x2="403.80" y2="128.00" stroke="#62b6ee" stroke-width="0.5" stroke-opacity="0.55"/>
<line x1="402.80" y1="124.00" x2="404.80" y2="124.00" stroke="#62b6ee" stroke-width="0.5" stroke-opacity="0.55"/>
<polyline points="345.30,165.80 359.80,157.40 374.60,153.10 389.00,149.80 403.80,126.00" fill="none" stroke="#62b6ee" stroke-width="1.25" stroke-linejoin="round"/>
<circle cx="345.30" cy="165.80" r="1.25" fill="#62b6ee"/>
<circle cx="359.80" cy="157.40" r="1.25" fill="#62b6ee"/>
<circle cx="374.60" cy="153.10" r="1.25" fill="#62b6ee"/>
<circle cx="389.00" cy="149.80" r="1.25" fill="#62b6ee"/>
<circle cx="403.80" cy="126.00" r="1.25" fill="#62b6ee"/>
<text x="374.60" y="149.70" font-size="7.5" text-anchor="middle" fill="#111" font-weight="bold" stroke="#111" stroke-width="0.22">*</text>
<text x="387.00" y="145.40" font-size="7.5" text-anchor="middle" fill="#111" font-weight="bold" stroke="#111" stroke-width="0.22">**</text>
<text x="403.00" y="121.20" font-size="7.5" text-anchor="middle" fill="#111" font-weight="bold" stroke="#111" stroke-width="0.22">***</text>
<line x1="441.60" y1="120.00" x2="441.60" y2="181.50" stroke="#505050" stroke-width="0.95" />
<line x1="441.10" y1="181.00" x2="512.00" y2="181.00" stroke="#505050" stroke-width="0.95" />
<line x1="440.00" y1="122.80" x2="441.60" y2="122.80" stroke="#222" stroke-width="0.6" />
<text x="439.40" y="125.00" font-size="6.1" text-anchor="end" fill="#111" font-weight="bold" stroke="#111" stroke-width="0.12" textLength="19.0" lengthAdjust="spacingAndGlyphs" >2.0×10<tspan dy="-2" font-size="3">7</tspan></text>
<line x1="440.00" y1="137.30" x2="441.60" y2="137.30" stroke="#222" stroke-width="0.6" />
<text x="439.40" y="139.50" font-size="6.1" text-anchor="end" fill="#111" font-weight="bold" stroke="#111" stroke-width="0.12" textLength="19.0" lengthAdjust="spacingAndGlyphs" >1.5×10<tspan dy="-2" font-size="3">7</tspan></text>
<line x1="440.00" y1="151.90" x2="441.60" y2="151.90" stroke="#222" stroke-width="0.6" />
<text x="439.40" y="154.10" font-size="6.1" text-anchor="end" fill="#111" font-weight="bold" stroke="#111" stroke-width="0.12" textLength="19.0" lengthAdjust="spacingAndGlyphs" >1.0×10<tspan dy="-2" font-size="3">7</tspan></text>
<line x1="440.00" y1="166.50" x2="441.60" y2="166.50" stroke="#222" stroke-width="0.6" />
<text x="439.40" y="168.70" font-size="6.1" text-anchor="end" fill="#111" font-weight="bold" stroke="#111" stroke-width="0.12" textLength="19.0" lengthAdjust="spacingAndGlyphs" >5.0×10<tspan dy="-2" font-size="3">6</tspan></text>
<line x1="440.00" y1="180.80" x2="441.60" y2="180.80" stroke="#222" stroke-width="0.6" />
<text x="439.40" y="183.00" font-size="6.1" text-anchor="end" fill="#111" font-weight="bold" stroke="#111" stroke-width="0.12" >0</text>
<line x1="448.70" y1="181.00" x2="448.70" y2="182.60" stroke="#222" stroke-width="0.6" />
<text x="448.70" y="190.82" font-size="5.6" text-anchor="middle" fill="#111" font-weight="bold" stroke="#111" stroke-width="0.12" >0</text>
<line x1="462.70" y1="181.00" x2="462.70" y2="182.60" stroke="#222" stroke-width="0.6" />
<text x="462.70" y="190.82" font-size="5.6" text-anchor="middle" fill="#111" font-weight="bold" stroke="#111" stroke-width="0.12" >1</text>
<line x1="476.70" y1="181.00" x2="476.70" y2="182.60" stroke="#222" stroke-width="0.6" />
<text x="476.70" y="190.82" font-size="5.6" text-anchor="middle" fill="#111" font-weight="bold" stroke="#111" stroke-width="0.12" >2</text>
<line x1="491.00" y1="181.00" x2="491.00" y2="182.60" stroke="#222" stroke-width="0.6" />
<text x="491.00" y="190.82" font-size="5.6" text-anchor="middle" fill="#111" font-weight="bold" stroke="#111" stroke-width="0.12" >3</text>
<line x1="504.70" y1="181.00" x2="504.70" y2="182.60" stroke="#222" stroke-width="0.6" />
<text x="504.70" y="190.82" font-size="5.6" text-anchor="middle" fill="#111" font-weight="bold" stroke="#111" stroke-width="0.12" >4</text>
<text x="479.76" y="199.19" font-size="7.2" text-anchor="middle" fill="#111" font-weight="bold" stroke="#111" stroke-width="0.22" textLength="13.9" lengthAdjust="spacingAndGlyphs" >Days</text>
<text x="475.20" y="114.90" font-size="10.0" text-anchor="middle" fill="#111" font-weight="bold" stroke="#111" stroke-width="0.22" textLength="32.3" lengthAdjust="spacingAndGlyphs" >CHLA-90</text>
<line x1="504.70" y1="138.90" x2="504.70" y2="141.90" stroke="#e3263f" stroke-width="0.5" stroke-opacity="0.55"/>
<line x1="503.70" y1="138.90" x2="505.70" y2="138.90" stroke="#e3263f" stroke-width="0.5" stroke-opacity="0.55"/>
<polyline points="448.70,158.20 462.70,154.10 476.70,153.60 491.00,149.80 504.70,140.40" fill="none" stroke="#e3263f" stroke-width="1.25" stroke-linejoin="round"/>
<circle cx="448.70" cy="158.20" r="1.25" fill="#e3263f"/>
<circle cx="462.70" cy="154.10" r="1.25" fill="#e3263f"/>
<circle cx="476.70" cy="153.60" r="1.25" fill="#e3263f"/>
<circle cx="491.00" cy="149.80" r="1.25" fill="#e3263f"/>
<circle cx="504.70" cy="140.40" r="1.25" fill="#e3263f"/>
<line x1="504.70" y1="133.30" x2="504.70" y2="137.30" stroke="#b541dd" stroke-width="0.5" stroke-opacity="0.55"/>
<line x1="503.70" y1="133.30" x2="505.70" y2="133.30" stroke="#b541dd" stroke-width="0.5" stroke-opacity="0.55"/>
<polyline points="448.70,157.50 462.70,154.10 476.70,151.00 491.00,146.50 504.70,135.30" fill="none" stroke="#b541dd" stroke-width="1.25" stroke-linejoin="round"/>
<circle cx="448.70" cy="157.50" r="1.25" fill="#b541dd"/>
<circle cx="462.70" cy="154.10" r="1.25" fill="#b541dd"/>
<circle cx="476.70" cy="151.00" r="1.25" fill="#b541dd"/>
<circle cx="491.00" cy="146.50" r="1.25" fill="#b541dd"/>
<circle cx="504.70" cy="135.30" r="1.25" fill="#b541dd"/>
<polyline points="448.70,156.70 462.70,154.10 476.70,148.00 491.00,142.20 504.70,124.40" fill="none" stroke="#1d2e9e" stroke-width="1.25" stroke-linejoin="round"/>
<circle cx="448.70" cy="156.70" r="1.25" fill="#1d2e9e"/>
<circle cx="462.70" cy="154.10" r="1.25" fill="#1d2e9e"/>
<circle cx="476.70" cy="148.00" r="1.25" fill="#1d2e9e"/>
<circle cx="491.00" cy="142.20" r="1.25" fill="#1d2e9e"/>
<circle cx="504.70" cy="124.40" r="1.25" fill="#1d2e9e"/>
<line x1="476.70" y1="145.50" x2="476.70" y2="147.50" stroke="#62b6ee" stroke-width="0.5" stroke-opacity="0.55"/>
<line x1="475.70" y1="145.50" x2="477.70" y2="145.50" stroke="#62b6ee" stroke-width="0.5" stroke-opacity="0.55"/>
<line x1="491.00" y1="136.80" x2="491.00" y2="138.80" stroke="#62b6ee" stroke-width="0.5" stroke-opacity="0.55"/>
<line x1="490.00" y1="136.80" x2="492.00" y2="136.80" stroke="#62b6ee" stroke-width="0.5" stroke-opacity="0.55"/>
<line x1="504.70" y1="121.00" x2="504.70" y2="125.00" stroke="#62b6ee" stroke-width="0.5" stroke-opacity="0.55"/>
<line x1="503.70" y1="121.00" x2="505.70" y2="121.00" stroke="#62b6ee" stroke-width="0.5" stroke-opacity="0.55"/>
<polyline points="448.70,156.70 462.70,154.10 476.70,146.50 491.00,137.80 504.70,123.00" fill="none" stroke="#62b6ee" stroke-width="1.25" stroke-linejoin="round"/>
<circle cx="448.70" cy="156.70" r="1.25" fill="#62b6ee"/>
<circle cx="462.70" cy="154.10" r="1.25" fill="#62b6ee"/>
<circle cx="476.70" cy="146.50" r="1.25" fill="#62b6ee"/>
<circle cx="491.00" cy="137.80" r="1.25" fill="#62b6ee"/>
<circle cx="504.70" cy="123.00" r="1.25" fill="#62b6ee"/>
<text x="475.60" y="144.10" font-size="7.5" text-anchor="middle" fill="#111" font-weight="bold" stroke="#111" stroke-width="0.22">*</text>
<text x="487.60" y="136.50" font-size="7.5" text-anchor="middle" fill="#111" font-weight="bold" stroke="#111" stroke-width="0.22">**</text>
<text x="504.00" y="120.70" font-size="7.5" text-anchor="middle" fill="#111" font-weight="bold" stroke="#111" stroke-width="0.22">***</text>
<defs>
<filter id="b1" x="-50%" y="-50%" width="200%" height="200%"><feGaussianBlur stdDeviation="0.7"/></filter>
<filter id="b2" x="-50%" y="-50%" width="200%" height="200%"><feGaussianBlur stdDeviation="0.4"/></filter>
</defs>
<rect x="111.6" y="232.3" width="38.30" height="33.50" fill="#fff" stroke="#707070" stroke-width="0.7"/>
<path d="M115.20,265.80 L115.20,235.20 L147.70,235.20 L147.70,265.80" fill="none" stroke="#999" stroke-width="0.5"/>
<line x1="110.20" y1="236.40" x2="111.60" y2="236.40" stroke="#555" stroke-width="0.5" />
<line x1="110.20" y1="244.40" x2="111.60" y2="244.40" stroke="#555" stroke-width="0.5" />
<line x1="110.20" y1="252.40" x2="111.60" y2="252.40" stroke="#555" stroke-width="0.5" />
<line x1="110.20" y1="260.40" x2="111.60" y2="260.40" stroke="#555" stroke-width="0.5" />
<path d="M123.8,249.2 C125.0,246.4 127.8,246.2 130.8,246.2 L135.4,246.4 C138.4,246.6 139.8,247.2 140.4,248.4" fill="none" stroke="#e88cee" stroke-width="4.6" stroke-linecap="round" filter="url(#b1)"/>
<path d="M123.8,249.2 C125.0,246.4 127.8,246.2 130.8,246.2 L135.4,246.4 C138.4,246.6 139.8,247.2 140.4,248.4" fill="none" stroke="#cc22d0" stroke-width="2.6" stroke-linecap="round" filter="url(#b2)"/>
<ellipse cx="121.1" cy="252.3" rx="2.0" ry="1.7" fill="#8fdcec" filter="url(#b2)"/>
<ellipse cx="124.7" cy="252.8" rx="3.6" ry="2.7" fill="#3a8040" opacity="0.8" filter="url(#b1)"/>
<ellipse cx="124.7" cy="252.8" rx="2.88" ry="2.16" fill="#124a18" filter="url(#b2)"/>
<ellipse cx="139.4" cy="250.4" rx="3.4" ry="1.6" fill="#f39440" filter="url(#b2)"/>
<ellipse cx="130.8" cy="251.0" rx="1.8" ry="1.3" fill="#6a74f0" opacity="0.85" filter="url(#b2)"/>
<line x1="122.70" y1="235.20" x2="122.70" y2="265.80" stroke="#555" stroke-width="0.45" />
<line x1="122.70" y1="249.30" x2="146.70" y2="249.30" stroke="#555" stroke-width="0.45" />
<line x1="130.70" y1="250.80" x2="130.70" y2="265.80" stroke="#555" stroke-width="0.45" />
<line x1="135.50" y1="250.10" x2="135.50" y2="265.80" stroke="#555" stroke-width="0.45" />
<text x="123.20" y="240.82" font-size="2.0" text-anchor="middle" fill="#555" >BrdU+</text>
<text x="126.70" y="260.66" font-size="2.4" text-anchor="middle" fill="#444" >G1</text>
<text x="141.70" y="259.59" font-size="2.2" text-anchor="middle" fill="#444" >G2/M</text>
<text x="119.26" y="271.28" font-size="3.0" text-anchor="middle" fill="#444" >50</text>
<text x="125.96" y="271.28" font-size="3.0" text-anchor="middle" fill="#444" >100</text>
<text x="132.66" y="271.28" font-size="3.0" text-anchor="middle" fill="#444" >150</text>
<text x="139.37" y="271.28" font-size="3.0" text-anchor="middle" fill="#444" >200</text>
<text x="146.07" y="271.28" font-size="3.0" text-anchor="middle" fill="#444" >250</text>
<text x="109.60" y="237.55" font-size="3.2" text-anchor="end" fill="#444" >10<tspan dy="-1" font-size="2">3</tspan></text>
<text x="109.60" y="245.55" font-size="3.2" text-anchor="end" fill="#444" >10<tspan dy="-1" font-size="2">2</tspan></text>
<text x="109.60" y="253.55" font-size="3.2" text-anchor="end" fill="#444" >10<tspan dy="-1" font-size="2">1</tspan></text>
<text x="109.60" y="261.55" font-size="3.2" text-anchor="end" fill="#444" >10<tspan dy="-1" font-size="2">0</tspan></text>
<text x="131.30" y="220.37" font-size="6.3" text-anchor="middle" fill="#111" font-weight="bold" stroke="#111" stroke-width="0.12" textLength="8.19" lengthAdjust="spacingAndGlyphs" >NB</text>
<text x="131.30" y="228.57" font-size="6.3" text-anchor="middle" fill="#111" font-weight="bold" stroke="#111" stroke-width="0.12" textLength="8.82" lengthAdjust="spacingAndGlyphs" >CM</text>
<rect x="157.4" y="232.3" width="38.20" height="33.50" fill="#fff" stroke="#707070" stroke-width="0.7"/>
<path d="M160.30,265.80 L160.30,235.20 L193.40,235.20 L193.40,265.80" fill="none" stroke="#999" stroke-width="0.5"/>
<line x1="156.00" y1="236.40" x2="157.40" y2="236.40" stroke="#555" stroke-width="0.5" />
<line x1="156.00" y1="244.40" x2="157.40" y2="244.40" stroke="#555" stroke-width="0.5" />
<line x1="156.00" y1="252.40" x2="157.40" y2="252.40" stroke="#555" stroke-width="0.5" />
<line x1="156.00" y1="260.40" x2="157.40" y2="260.40" stroke="#555" stroke-width="0.5" />
<path d="M169.8,251.8 C171.0,249.0 173.8,248.8 176.8,248.8 L182.1,249.0 C185.1,249.2 186.5,249.8 187.1,251.0" fill="none" stroke="#e88cee" stroke-width="4.6" stroke-linecap="round" filter="url(#b1)"/>
<path d="M169.8,251.8 C171.0,249.0 173.8,248.8 176.8,248.8 L182.1,249.0 C185.1,249.2 186.5,249.8 187.1,251.0" fill="none" stroke="#cc22d0" stroke-width="2.6" stroke-linecap="round" filter="url(#b2)"/>
<ellipse cx="166.8" cy="254.8" rx="2.0" ry="1.7" fill="#8fdcec" filter="url(#b2)"/>
<ellipse cx="170.4" cy="255.3" rx="4.6" ry="3.0" fill="#3a8040" opacity="0.8" filter="url(#b1)"/>
<ellipse cx="170.4" cy="255.3" rx="3.68" ry="2.40" fill="#124a18" filter="url(#b2)"/>
<ellipse cx="184.7" cy="253.9" rx="3.4" ry="1.6" fill="#f39440" filter="url(#b2)"/>
<ellipse cx="177.2" cy="253.9" rx="1.8" ry="1.3" fill="#6a74f0" opacity="0.85" filter="url(#b2)"/>
<line x1="167.60" y1="235.20" x2="167.60" y2="265.80" stroke="#555" stroke-width="0.45" />
<line x1="167.60" y1="253.20" x2="192.40" y2="253.20" stroke="#555" stroke-width="0.45" />
<line x1="175.30" y1="254.70" x2="175.30" y2="265.80" stroke="#555" stroke-width="0.45" />
<line x1="181.10" y1="254.00" x2="181.10" y2="265.80" stroke="#555" stroke-width="0.45" />
<text x="168.10" y="240.82" font-size="2.0" text-anchor="middle" fill="#555" >BrdU+</text>
<text x="171.45" y="260.66" font-size="2.4" text-anchor="middle" fill="#444" >G1</text>
<text x="187.35" y="259.59" font-size="2.2" text-anchor="middle" fill="#444" >G2/M</text>
<text x="165.04" y="271.28" font-size="3.0" text-anchor="middle" fill="#444" >50</text>
<text x="171.72" y="271.28" font-size="3.0" text-anchor="middle" fill="#444" >100</text>
<text x="178.41" y="271.28" font-size="3.0" text-anchor="middle" fill="#444" >150</text>
<text x="185.09" y="271.28" font-size="3.0" text-anchor="middle" fill="#444" >200</text>
<text x="191.78" y="271.28" font-size="3.0" text-anchor="middle" fill="#444" >250</text>
<text x="155.40" y="237.55" font-size="3.2" text-anchor="end" fill="#444" >10<tspan dy="-1" font-size="2">3</tspan></text>
<text x="155.40" y="245.55" font-size="3.2" text-anchor="end" fill="#444" >10<tspan dy="-1" font-size="2">2</tspan></text>
<text x="155.40" y="253.55" font-size="3.2" text-anchor="end" fill="#444" >10<tspan dy="-1" font-size="2">1</tspan></text>
<text x="155.40" y="261.55" font-size="3.2" text-anchor="end" fill="#444" >10<tspan dy="-1" font-size="2">0</tspan></text>
<text x="176.20" y="220.37" font-size="6.3" text-anchor="middle" fill="#111" font-weight="bold" stroke="#111" stroke-width="0.12" textLength="9.76" lengthAdjust="spacingAndGlyphs" >NB/</text>
<text x="176.20" y="228.57" font-size="6.3" text-anchor="middle" fill="#111" font-weight="bold" stroke="#111" stroke-width="0.12" textLength="36.53" lengthAdjust="spacingAndGlyphs" >CAF-MSC CM</text>
<rect x="202.2" y="232.3" width="37.70" height="33.50" fill="#fff" stroke="#707070" stroke-width="0.7"/>
<path d="M206.10,265.80 L206.10,235.20 L237.70,235.20 L237.70,265.80" fill="none" stroke="#999" stroke-width="0.5"/>
<line x1="200.80" y1="236.40" x2="202.20" y2="236.40" stroke="#555" stroke-width="0.5" />
<line x1="200.80" y1="244.40" x2="202.20" y2="244.40" stroke="#555" stroke-width="0.5" />
<line x1="200.80" y1="252.40" x2="202.20" y2="252.40" stroke="#555" stroke-width="0.5" />
<line x1="200.80" y1="260.40" x2="202.20" y2="260.40" stroke="#555" stroke-width="0.5" />
<path d="M215.0,250.0 C216.2,247.2 219.0,247.0 222.0,247.0 L226.5,247.2 C229.5,247.4 230.9,248.0 231.5,249.2" fill="none" stroke="#e88cee" stroke-width="4.6" stroke-linecap="round" filter="url(#b1)"/>
<path d="M215.0,250.0 C216.2,247.2 219.0,247.0 222.0,247.0 L226.5,247.2 C229.5,247.4 230.9,248.0 231.5,249.2" fill="none" stroke="#cc22d0" stroke-width="2.6" stroke-linecap="round" filter="url(#b2)"/>
<ellipse cx="212.9" cy="252.0" rx="2.0" ry="1.7" fill="#8fdcec" filter="url(#b2)"/>
<ellipse cx="216.5" cy="252.5" rx="3.0" ry="2.5" fill="#3a8040" opacity="0.8" filter="url(#b1)"/>
<ellipse cx="216.5" cy="252.5" rx="2.40" ry="2.00" fill="#124a18" filter="url(#b2)"/>
<ellipse cx="230.6" cy="251.0" rx="3.4" ry="1.6" fill="#f39440" filter="url(#b2)"/>
<line x1="213.00" y1="235.20" x2="213.00" y2="265.80" stroke="#555" stroke-width="0.45" />
<line x1="213.00" y1="249.50" x2="236.70" y2="249.50" stroke="#555" stroke-width="0.45" />
<line x1="221.30" y1="251.00" x2="221.30" y2="265.80" stroke="#555" stroke-width="0.45" />
<line x1="226.70" y1="250.30" x2="226.70" y2="265.80" stroke="#555" stroke-width="0.45" />
<text x="213.50" y="240.82" font-size="2.0" text-anchor="middle" fill="#555" >BrdU+</text>
<text x="217.15" y="260.66" font-size="2.4" text-anchor="middle" fill="#444" >G1</text>
<text x="232.30" y="259.59" font-size="2.2" text-anchor="middle" fill="#444" >G2/M</text>
<text x="209.74" y="271.28" font-size="3.0" text-anchor="middle" fill="#444" >50</text>
<text x="216.34" y="271.28" font-size="3.0" text-anchor="middle" fill="#444" >100</text>
<text x="222.94" y="271.28" font-size="3.0" text-anchor="middle" fill="#444" >150</text>
<text x="229.53" y="271.28" font-size="3.0" text-anchor="middle" fill="#444" >200</text>
<text x="236.13" y="271.28" font-size="3.0" text-anchor="middle" fill="#444" >250</text>
<text x="200.20" y="237.55" font-size="3.2" text-anchor="end" fill="#444" >10<tspan dy="-1" font-size="2">3</tspan></text>
<text x="200.20" y="245.55" font-size="3.2" text-anchor="end" fill="#444" >10<tspan dy="-1" font-size="2">2</tspan></text>
<text x="200.20" y="253.55" font-size="3.2" text-anchor="end" fill="#444" >10<tspan dy="-1" font-size="2">1</tspan></text>
<text x="200.20" y="261.55" font-size="3.2" text-anchor="end" fill="#444" >10<tspan dy="-1" font-size="2">0</tspan></text>
<text x="221.20" y="220.37" font-size="6.3" text-anchor="middle" fill="#111" font-weight="bold" stroke="#111" stroke-width="0.12" textLength="9.76" lengthAdjust="spacingAndGlyphs" >NB/</text>
<text x="221.20" y="228.57" font-size="6.3" text-anchor="middle" fill="#111" font-weight="bold" stroke="#111" stroke-width="0.12" textLength="33.7" lengthAdjust="spacingAndGlyphs" >BM-MSC CM</text>
<rect x="249.2" y="232.3" width="37.10" height="33.50" fill="#fff" stroke="#707070" stroke-width="0.7"/>
<path d="M252.80,265.80 L252.80,235.20 L284.10,235.20 L284.10,265.80" fill="none" stroke="#999" stroke-width="0.5"/>
<line x1="247.80" y1="236.40" x2="249.20" y2="236.40" stroke="#555" stroke-width="0.5" />
<line x1="247.80" y1="244.40" x2="249.20" y2="244.40" stroke="#555" stroke-width="0.5" />
<line x1="247.80" y1="252.40" x2="249.20" y2="252.40" stroke="#555" stroke-width="0.5" />
<line x1="247.80" y1="260.40" x2="249.20" y2="260.40" stroke="#555" stroke-width="0.5" />
<path d="M258.8,249.4 C260.0,246.6 262.8,246.4 265.8,246.4 L273.8,246.6 C276.8,246.8 278.2,247.4 278.8,248.6" fill="none" stroke="#e88cee" stroke-width="4.6" stroke-linecap="round" filter="url(#b1)"/>
<path d="M258.8,249.4 C260.0,246.6 262.8,246.4 265.8,246.4 L273.8,246.6 C276.8,246.8 278.2,247.4 278.8,248.6" fill="none" stroke="#cc22d0" stroke-width="2.6" stroke-linecap="round" filter="url(#b2)"/>
<ellipse cx="258.0" cy="254.6" rx="2.0" ry="1.7" fill="#8fdcec" filter="url(#b2)"/>
<ellipse cx="262.0" cy="253.7" rx="3.9" ry="3.0" fill="#3a8040" opacity="0.8" filter="url(#b1)"/>
<ellipse cx="262.0" cy="253.7" rx="3.12" ry="2.40" fill="#124a18" filter="url(#b2)"/>
<ellipse cx="277.9" cy="251.9" rx="3.4" ry="1.6" fill="#f39440" filter="url(#b2)"/>
<ellipse cx="269.5" cy="251.3" rx="1.8" ry="1.3" fill="#6a74f0" opacity="0.85" filter="url(#b2)"/>
<line x1="259.60" y1="235.20" x2="259.60" y2="265.80" stroke="#555" stroke-width="0.45" />
<line x1="259.60" y1="248.90" x2="283.10" y2="248.90" stroke="#555" stroke-width="0.45" />
<line x1="267.70" y1="250.40" x2="267.70" y2="265.80" stroke="#555" stroke-width="0.45" />
<line x1="273.70" y1="249.70" x2="273.70" y2="265.80" stroke="#555" stroke-width="0.45" />
<text x="260.10" y="240.82" font-size="2.0" text-anchor="middle" fill="#555" >BrdU+</text>
<text x="263.65" y="260.66" font-size="2.4" text-anchor="middle" fill="#444" >G1</text>
<text x="279.00" y="259.59" font-size="2.2" text-anchor="middle" fill="#444" >G2/M</text>
<text x="256.62" y="271.28" font-size="3.0" text-anchor="middle" fill="#444" >50</text>
<text x="263.11" y="271.28" font-size="3.0" text-anchor="middle" fill="#444" >100</text>
<text x="269.61" y="271.28" font-size="3.0" text-anchor="middle" fill="#444" >150</text>
<text x="276.10" y="271.28" font-size="3.0" text-anchor="middle" fill="#444" >200</text>
<text x="282.59" y="271.28" font-size="3.0" text-anchor="middle" fill="#444" >250</text>
<text x="247.20" y="237.55" font-size="3.2" text-anchor="end" fill="#444" >10<tspan dy="-1" font-size="2">3</tspan></text>
<text x="247.20" y="245.55" font-size="3.2" text-anchor="end" fill="#444" >10<tspan dy="-1" font-size="2">2</tspan></text>
<text x="247.20" y="253.55" font-size="3.2" text-anchor="end" fill="#444" >10<tspan dy="-1" font-size="2">1</tspan></text>
<text x="247.20" y="261.55" font-size="3.2" text-anchor="end" fill="#444" >10<tspan dy="-1" font-size="2">0</tspan></text>
<text x="266.80" y="220.37" font-size="6.3" text-anchor="middle" fill="#111" font-weight="bold" stroke="#111" stroke-width="0.12" textLength="9.76" lengthAdjust="spacingAndGlyphs" >NB/</text>
<text x="266.80" y="228.57" font-size="6.3" text-anchor="middle" fill="#111" font-weight="bold" stroke="#111" stroke-width="0.12" textLength="17.32" lengthAdjust="spacingAndGlyphs" >Fb CM</text>
<text x="0" y="0" font-size="6.8" text-anchor="middle" fill="#111" font-weight="bold" stroke="#111" stroke-width="0.1" textLength="14" lengthAdjust="spacingAndGlyphs" transform="translate(99.95 264.30) rotate(-90)">BrdU</text>
<line x1="96.80" y1="255.50" x2="96.80" y2="235.00" stroke="#111" stroke-width="0.8" />
<path d="M94.8,237.3 L96.8,233.8 L98.8,237.3" fill="none" stroke="#111" stroke-width="0.8"/>
<text x="121.20" y="281.89" font-size="7.2" text-anchor="middle" fill="#111" font-weight="bold" stroke="#111" stroke-width="0.22" textLength="19" lengthAdjust="spacingAndGlyphs" >7-ADD</text>
<line x1="135.50" y1="278.80" x2="283.00" y2="278.80" stroke="#111" stroke-width="0.9" />
<path d="M279.6,276.0 L284.0,278.8 L279.6,281.6" fill="none" stroke="#111" stroke-width="0.9"/>
<rect x="339.6" y="232.2" width="35.90" height="33.10" fill="#fff" stroke="#999" stroke-width="0.6"/>
<line x1="357.55" y1="232.20" x2="357.55" y2="265.30" stroke="#777" stroke-width="0.5" />
<line x1="339.60" y1="251.07" x2="375.50" y2="251.07" stroke="#777" stroke-width="0.5" />
<line x1="338.20" y1="235.80" x2="339.60" y2="235.80" stroke="#555" stroke-width="0.5" />
<line x1="338.20" y1="244.00" x2="339.60" y2="244.00" stroke="#555" stroke-width="0.5" />
<line x1="338.20" y1="252.20" x2="339.60" y2="252.20" stroke="#555" stroke-width="0.5" />
<line x1="338.20" y1="260.40" x2="339.60" y2="260.40" stroke="#555" stroke-width="0.5" />
<ellipse cx="348.6" cy="257.7" rx="9.2" ry="4.4" fill="#9aa4f6" opacity="0.7" transform="rotate(-30 348.6 257.7)" filter="url(#b1)"/>
<ellipse cx="348.6" cy="257.7" rx="7.4" ry="3.1" fill="#1a2ee8" transform="rotate(-30 348.6 257.7)" filter="url(#b2)"/>
<ellipse cx="350.1" cy="257.1" rx="4.5" ry="2.0" fill="#0a14c8" transform="rotate(-30 348.6 257.7)" filter="url(#b2)"/>
<rect x="355.3" y="257.3" width="0.7" height="0.7" fill="#3a4ef0"/>
<rect x="347.5" y="254.6" width="0.7" height="0.7" fill="#3a4ef0"/>
<rect x="341.9" y="261.7" width="0.7" height="0.7" fill="#3a4ef0"/>
<rect x="342.5" y="257.5" width="0.7" height="0.7" fill="#3a4ef0"/>
<rect x="354.1" y="256.4" width="0.7" height="0.7" fill="#3a4ef0"/>
<rect x="350.6" y="253.1" width="0.7" height="0.7" fill="#3a4ef0"/>
<rect x="347.6" y="255.0" width="0.7" height="0.7" fill="#3a4ef0"/>
<rect x="342.2" y="262.9" width="0.7" height="0.7" fill="#3a4ef0"/>
<rect x="351.7" y="260.7" width="0.7" height="0.7" fill="#3a4ef0"/>
<rect x="352.4" y="253.6" width="0.7" height="0.7" fill="#3a4ef0"/>
<rect x="355.8" y="254.2" width="0.7" height="0.7" fill="#3a4ef0"/>
<rect x="354.1" y="253.1" width="0.7" height="0.7" fill="#3a4ef0"/>
<rect x="351.7" y="259.8" width="0.7" height="0.7" fill="#3a4ef0"/>
<rect x="355.0" y="254.7" width="0.7" height="0.7" fill="#3a4ef0"/>
<rect x="342.9" y="262.6" width="0.7" height="0.7" fill="#3a4ef0"/>
<rect x="350.9" y="260.1" width="0.7" height="0.7" fill="#3a4ef0"/>
<rect x="351.7" y="259.9" width="0.7" height="0.7" fill="#3a4ef0"/>
<rect x="348.6" y="261.0" width="0.7" height="0.7" fill="#3a4ef0"/>
<rect x="350.7" y="252.9" width="0.7" height="0.7" fill="#3a4ef0"/>
<rect x="343.6" y="257.8" width="0.7" height="0.7" fill="#3a4ef0"/>
<rect x="356.4" y="253.0" width="0.7" height="0.7" fill="#3a4ef0"/>
<rect x="354.4" y="257.0" width="0.7" height="0.7" fill="#3a4ef0"/>
<rect x="345.4" y="255.2" width="0.7" height="0.7" fill="#3a4ef0"/>
<rect x="354.1" y="253.0" width="0.7" height="0.7" fill="#3a4ef0"/>
<rect x="350.5" y="252.8" width="0.7" height="0.7" fill="#3a4ef0"/>
<rect x="348.0" y="262.1" width="0.7" height="0.7" fill="#3a4ef0"/>
<ellipse cx="361.8" cy="245.9" rx="3.4" ry="5.0" fill="#7cc088" opacity="0.75" filter="url(#b1)"/>
<ellipse cx="361.8" cy="245.9" rx="2.2" ry="3.6" fill="#2f8a3e" filter="url(#b2)"/>
<ellipse cx="361.5" cy="246.2" rx="1.1" ry="2.0" fill="#0e4a18" filter="url(#b2)"/>
<rect x="364.4" y="242.4" width="0.6" height="0.6" fill="#3a9a4a"/>
<rect x="358.7" y="245.7" width="0.6" height="0.6" fill="#3a9a4a"/>
<rect x="364.3" y="246.7" width="0.6" height="0.6" fill="#3a9a4a"/>
<rect x="362.6" y="241.8" width="0.6" height="0.6" fill="#3a9a4a"/>
<rect x="363.2" y="249.9" width="0.6" height="0.6" fill="#3a9a4a"/>
<rect x="360.9" y="241.3" width="0.6" height="0.6" fill="#3a9a4a"/>
<rect x="359.8" y="249.0" width="0.6" height="0.6" fill="#3a9a4a"/>
<rect x="358.4" y="245.6" width="0.6" height="0.6" fill="#3a9a4a"/>
<rect x="359.0" y="245.3" width="0.6" height="0.6" fill="#3a9a4a"/>
<rect x="359.5" y="246.1" width="0.6" height="0.6" fill="#3a9a4a"/>
<rect x="364.9" y="247.2" width="0.6" height="0.6" fill="#3a9a4a"/>
<rect x="364.9" y="245.4" width="0.6" height="0.6" fill="#3a9a4a"/>
<rect x="359.8" y="248.2" width="0.6" height="0.6" fill="#3a9a4a"/>
<rect x="358.1" y="245.8" width="0.6" height="0.6" fill="#3a9a4a"/>
<circle cx="352.2" cy="243.2" r="0.6" fill="#e8a0a0"/>
<circle cx="354.0" cy="241.2" r="0.5" fill="#e8a0a0"/>
<circle cx="358.3" cy="236.2" r="0.5" fill="#e8c080"/>
<circle cx="349.7" cy="243.2" r="0.7" fill="#8a8ae0"/>
<circle cx="361.1" cy="254.2" r="0.6" fill="#8a8ae0"/>
<text x="344.63" y="270.82" font-size="3.1" text-anchor="middle" fill="#444" >10<tspan dy="-1" font-size="2">1</tspan></text>
<text x="353.24" y="270.82" font-size="3.1" text-anchor="middle" fill="#444" >10<tspan dy="-1" font-size="2">2</tspan></text>
<text x="361.86" y="270.82" font-size="3.1" text-anchor="middle" fill="#444" >10<tspan dy="-1" font-size="2">3</tspan></text>
<text x="370.47" y="270.82" font-size="3.1" text-anchor="middle" fill="#444" >10<tspan dy="-1" font-size="2">4</tspan></text>
<text x="337.80" y="236.95" font-size="3.2" text-anchor="end" fill="#444" >10<tspan dy="-1" font-size="2">3</tspan></text>
<text x="337.80" y="245.15" font-size="3.2" text-anchor="end" fill="#444" >10<tspan dy="-1" font-size="2">2</tspan></text>
<text x="337.80" y="253.35" font-size="3.2" text-anchor="end" fill="#444" >10<tspan dy="-1" font-size="2">1</tspan></text>
<text x="337.80" y="261.55" font-size="3.2" text-anchor="end" fill="#444" >10<tspan dy="-1" font-size="2">0</tspan></text>
<text x="358.90" y="220.37" font-size="6.3" text-anchor="middle" fill="#111" font-weight="bold" stroke="#111" stroke-width="0.12" textLength="8.19" lengthAdjust="spacingAndGlyphs" >NB</text>
<text x="358.90" y="228.57" font-size="6.3" text-anchor="middle" fill="#111" font-weight="bold" stroke="#111" stroke-width="0.12" textLength="8.82" lengthAdjust="spacingAndGlyphs" >CM</text>
<rect x="382.8" y="232.2" width="37.70" height="33.10" fill="#fff" stroke="#999" stroke-width="0.6"/>
<line x1="401.65" y1="232.20" x2="401.65" y2="265.30" stroke="#777" stroke-width="0.5" />
<line x1="382.80" y1="251.07" x2="420.50" y2="251.07" stroke="#777" stroke-width="0.5" />
<line x1="381.40" y1="235.80" x2="382.80" y2="235.80" stroke="#555" stroke-width="0.5" />
<line x1="381.40" y1="244.00" x2="382.80" y2="244.00" stroke="#555" stroke-width="0.5" />
<line x1="381.40" y1="252.20" x2="382.80" y2="252.20" stroke="#555" stroke-width="0.5" />
<line x1="381.40" y1="260.40" x2="382.80" y2="260.40" stroke="#555" stroke-width="0.5" />
<ellipse cx="393.0" cy="255.2" rx="9.2" ry="4.4" fill="#9aa4f6" opacity="0.7" transform="rotate(-30 393.0 255.2)" filter="url(#b1)"/>
<ellipse cx="393.0" cy="255.2" rx="7.4" ry="3.1" fill="#1a2ee8" transform="rotate(-30 393.0 255.2)" filter="url(#b2)"/>
<ellipse cx="394.5" cy="254.6" rx="4.5" ry="2.0" fill="#0a14c8" transform="rotate(-30 393.0 255.2)" filter="url(#b2)"/>
<rect x="400.2" y="249.7" width="0.7" height="0.7" fill="#3a4ef0"/>
<rect x="399.0" y="253.0" width="0.7" height="0.7" fill="#3a4ef0"/>
<rect x="395.2" y="250.1" width="0.7" height="0.7" fill="#3a4ef0"/>
<rect x="388.5" y="254.5" width="0.7" height="0.7" fill="#3a4ef0"/>
<rect x="386.2" y="256.5" width="0.7" height="0.7" fill="#3a4ef0"/>
<rect x="387.0" y="256.9" width="0.7" height="0.7" fill="#3a4ef0"/>
<rect x="387.7" y="259.9" width="0.7" height="0.7" fill="#3a4ef0"/>
<rect x="389.5" y="252.4" width="0.7" height="0.7" fill="#3a4ef0"/>
<rect x="399.1" y="250.4" width="0.7" height="0.7" fill="#3a4ef0"/>
<rect x="387.6" y="259.6" width="0.7" height="0.7" fill="#3a4ef0"/>
<rect x="398.9" y="252.6" width="0.7" height="0.7" fill="#3a4ef0"/>
<rect x="387.1" y="259.5" width="0.7" height="0.7" fill="#3a4ef0"/>
<rect x="388.6" y="261.0" width="0.7" height="0.7" fill="#3a4ef0"/>
<rect x="385.7" y="258.7" width="0.7" height="0.7" fill="#3a4ef0"/>
<rect x="394.9" y="257.4" width="0.7" height="0.7" fill="#3a4ef0"/>
<rect x="391.7" y="259.1" width="0.7" height="0.7" fill="#3a4ef0"/>
<rect x="384.7" y="259.7" width="0.7" height="0.7" fill="#3a4ef0"/>
<rect x="388.8" y="254.4" width="0.7" height="0.7" fill="#3a4ef0"/>
<rect x="397.8" y="249.6" width="0.7" height="0.7" fill="#3a4ef0"/>
<rect x="390.2" y="252.1" width="0.7" height="0.7" fill="#3a4ef0"/>
<rect x="391.6" y="251.4" width="0.7" height="0.7" fill="#3a4ef0"/>
<rect x="389.7" y="261.0" width="0.7" height="0.7" fill="#3a4ef0"/>
<rect x="398.5" y="251.2" width="0.7" height="0.7" fill="#3a4ef0"/>
<rect x="391.3" y="251.7" width="0.7" height="0.7" fill="#3a4ef0"/>
<rect x="386.6" y="259.9" width="0.7" height="0.7" fill="#3a4ef0"/>
<rect x="385.1" y="260.1" width="0.7" height="0.7" fill="#3a4ef0"/>
<circle cx="406.9" cy="248.7" r="0.8" fill="#4a9a5a"/>
<circle cx="405.4" cy="243.2" r="0.6" fill="#9acaa0"/>
<circle cx="396.0" cy="243.2" r="0.6" fill="#e8a0a0"/>
<circle cx="397.9" cy="241.2" r="0.5" fill="#e8a0a0"/>
<circle cx="402.4" cy="236.2" r="0.5" fill="#e8c080"/>
<circle cx="393.4" cy="243.2" r="0.7" fill="#8a8ae0"/>
<circle cx="405.4" cy="254.2" r="0.6" fill="#8a8ae0"/>
<text x="388.08" y="270.82" font-size="3.1" text-anchor="middle" fill="#444" >10<tspan dy="-1" font-size="2">1</tspan></text>
<text x="397.13" y="270.82" font-size="3.1" text-anchor="middle" fill="#444" >10<tspan dy="-1" font-size="2">2</tspan></text>
<text x="406.17" y="270.82" font-size="3.1" text-anchor="middle" fill="#444" >10<tspan dy="-1" font-size="2">3</tspan></text>
<text x="415.22" y="270.82" font-size="3.1" text-anchor="middle" fill="#444" >10<tspan dy="-1" font-size="2">4</tspan></text>
<text x="381.00" y="236.95" font-size="3.2" text-anchor="end" fill="#444" >10<tspan dy="-1" font-size="2">3</tspan></text>
<text x="381.00" y="245.15" font-size="3.2" text-anchor="end" fill="#444" >10<tspan dy="-1" font-size="2">2</tspan></text>
<text x="381.00" y="253.35" font-size="3.2" text-anchor="end" fill="#444" >10<tspan dy="-1" font-size="2">1</tspan></text>
<text x="381.00" y="261.55" font-size="3.2" text-anchor="end" fill="#444" >10<tspan dy="-1" font-size="2">0</tspan></text>
<text x="402.20" y="220.37" font-size="6.3" text-anchor="middle" fill="#111" font-weight="bold" stroke="#111" stroke-width="0.12" textLength="9.76" lengthAdjust="spacingAndGlyphs" >NB/</text>
<text x="402.20" y="228.57" font-size="6.3" text-anchor="middle" fill="#111" font-weight="bold" stroke="#111" stroke-width="0.12" textLength="36.53" lengthAdjust="spacingAndGlyphs" >CAF-MSC CM</text>
<rect x="430.6" y="232.2" width="37.40" height="33.10" fill="#fff" stroke="#999" stroke-width="0.6"/>
<line x1="449.30" y1="232.20" x2="449.30" y2="265.30" stroke="#777" stroke-width="0.5" />
<line x1="430.60" y1="251.07" x2="468.00" y2="251.07" stroke="#777" stroke-width="0.5" />
<line x1="429.20" y1="235.80" x2="430.60" y2="235.80" stroke="#555" stroke-width="0.5" />
<line x1="429.20" y1="244.00" x2="430.60" y2="244.00" stroke="#555" stroke-width="0.5" />
<line x1="429.20" y1="252.20" x2="430.60" y2="252.20" stroke="#555" stroke-width="0.5" />
<line x1="429.20" y1="260.40" x2="430.60" y2="260.40" stroke="#555" stroke-width="0.5" />
<ellipse cx="439.5" cy="256.9" rx="9.2" ry="4.4" fill="#9aa4f6" opacity="0.7" transform="rotate(-30 439.5 256.9)" filter="url(#b1)"/>
<ellipse cx="439.5" cy="256.9" rx="7.4" ry="3.1" fill="#1a2ee8" transform="rotate(-30 439.5 256.9)" filter="url(#b2)"/>
<ellipse cx="441.0" cy="256.3" rx="4.5" ry="2.0" fill="#0a14c8" transform="rotate(-30 439.5 256.9)" filter="url(#b2)"/>
<rect x="441.8" y="259.7" width="0.7" height="0.7" fill="#3a4ef0"/>
<rect x="435.9" y="262.1" width="0.7" height="0.7" fill="#3a4ef0"/>
<rect x="434.4" y="257.4" width="0.7" height="0.7" fill="#3a4ef0"/>
<rect x="447.4" y="252.7" width="0.7" height="0.7" fill="#3a4ef0"/>
<rect x="440.7" y="259.9" width="0.7" height="0.7" fill="#3a4ef0"/>
<rect x="446.3" y="252.9" width="0.7" height="0.7" fill="#3a4ef0"/>
<rect x="441.5" y="252.2" width="0.7" height="0.7" fill="#3a4ef0"/>
<rect x="434.5" y="257.1" width="0.7" height="0.7" fill="#3a4ef0"/>
<rect x="432.8" y="257.3" width="0.7" height="0.7" fill="#3a4ef0"/>
<rect x="431.8" y="260.7" width="0.7" height="0.7" fill="#3a4ef0"/>
<rect x="435.5" y="256.2" width="0.7" height="0.7" fill="#3a4ef0"/>
<rect x="438.0" y="253.5" width="0.7" height="0.7" fill="#3a4ef0"/>
<rect x="439.1" y="260.3" width="0.7" height="0.7" fill="#3a4ef0"/>
<rect x="442.7" y="252.0" width="0.7" height="0.7" fill="#3a4ef0"/>
<rect x="436.0" y="254.3" width="0.7" height="0.7" fill="#3a4ef0"/>
<rect x="435.7" y="254.4" width="0.7" height="0.7" fill="#3a4ef0"/>
<rect x="434.6" y="262.5" width="0.7" height="0.7" fill="#3a4ef0"/>
<rect x="432.6" y="262.5" width="0.7" height="0.7" fill="#3a4ef0"/>
<rect x="442.7" y="252.6" width="0.7" height="0.7" fill="#3a4ef0"/>
<rect x="444.8" y="256.6" width="0.7" height="0.7" fill="#3a4ef0"/>
<rect x="445.7" y="252.4" width="0.7" height="0.7" fill="#3a4ef0"/>
<rect x="433.9" y="257.4" width="0.7" height="0.7" fill="#3a4ef0"/>
<rect x="432.8" y="260.6" width="0.7" height="0.7" fill="#3a4ef0"/>
<rect x="436.8" y="261.9" width="0.7" height="0.7" fill="#3a4ef0"/>
<rect x="431.6" y="259.1" width="0.7" height="0.7" fill="#3a4ef0"/>
<rect x="434.3" y="255.6" width="0.7" height="0.7" fill="#3a4ef0"/>
<circle cx="454.5" cy="248.7" r="0.8" fill="#4a9a5a"/>
<circle cx="453.0" cy="243.2" r="0.6" fill="#9acaa0"/>
<circle cx="443.7" cy="243.2" r="0.6" fill="#e8a0a0"/>
<circle cx="445.6" cy="241.2" r="0.5" fill="#e8a0a0"/>
<circle cx="450.0" cy="236.2" r="0.5" fill="#e8c080"/>
<circle cx="441.1" cy="243.2" r="0.7" fill="#8a8ae0"/>
<circle cx="453.0" cy="254.2" r="0.6" fill="#8a8ae0"/>
<text x="435.84" y="270.82" font-size="3.1" text-anchor="middle" fill="#444" >10<tspan dy="-1" font-size="2">1</tspan></text>
<text x="444.81" y="270.82" font-size="3.1" text-anchor="middle" fill="#444" >10<tspan dy="-1" font-size="2">2</tspan></text>
<text x="453.79" y="270.82" font-size="3.1" text-anchor="middle" fill="#444" >10<tspan dy="-1" font-size="2">3</tspan></text>
<text x="462.76" y="270.82" font-size="3.1" text-anchor="middle" fill="#444" >10<tspan dy="-1" font-size="2">4</tspan></text>
<text x="428.80" y="236.95" font-size="3.2" text-anchor="end" fill="#444" >10<tspan dy="-1" font-size="2">3</tspan></text>
<text x="428.80" y="245.15" font-size="3.2" text-anchor="end" fill="#444" >10<tspan dy="-1" font-size="2">2</tspan></text>
<text x="428.80" y="253.35" font-size="3.2" text-anchor="end" fill="#444" >10<tspan dy="-1" font-size="2">1</tspan></text>
<text x="428.80" y="261.55" font-size="3.2" text-anchor="end" fill="#444" >10<tspan dy="-1" font-size="2">0</tspan></text>
<text x="451.40" y="220.37" font-size="6.3" text-anchor="middle" fill="#111" font-weight="bold" stroke="#111" stroke-width="0.12" textLength="9.76" lengthAdjust="spacingAndGlyphs" >NB/</text>
<text x="451.40" y="228.57" font-size="6.3" text-anchor="middle" fill="#111" font-weight="bold" stroke="#111" stroke-width="0.12" textLength="33.7" lengthAdjust="spacingAndGlyphs" >BM-MSC CM</text>
<rect x="474.8" y="232.2" width="37.70" height="33.10" fill="#fff" stroke="#999" stroke-width="0.6"/>
<line x1="493.65" y1="232.20" x2="493.65" y2="265.30" stroke="#777" stroke-width="0.5" />
<line x1="474.80" y1="251.07" x2="512.50" y2="251.07" stroke="#777" stroke-width="0.5" />
<line x1="473.40" y1="235.80" x2="474.80" y2="235.80" stroke="#555" stroke-width="0.5" />
<line x1="473.40" y1="244.00" x2="474.80" y2="244.00" stroke="#555" stroke-width="0.5" />
<line x1="473.40" y1="252.20" x2="474.80" y2="252.20" stroke="#555" stroke-width="0.5" />
<line x1="473.40" y1="260.40" x2="474.80" y2="260.40" stroke="#555" stroke-width="0.5" />
<ellipse cx="484.7" cy="257.6" rx="9.2" ry="4.4" fill="#9aa4f6" opacity="0.7" transform="rotate(-30 484.7 257.6)" filter="url(#b1)"/>
<ellipse cx="484.7" cy="257.6" rx="7.4" ry="3.1" fill="#1a2ee8" transform="rotate(-30 484.7 257.6)" filter="url(#b2)"/>
<ellipse cx="486.2" cy="257.0" rx="4.5" ry="2.0" fill="#0a14c8" transform="rotate(-30 484.7 257.6)" filter="url(#b2)"/>
<rect x="486.7" y="259.9" width="0.7" height="0.7" fill="#3a4ef0"/>
<rect x="480.9" y="262.0" width="0.7" height="0.7" fill="#3a4ef0"/>
<rect x="491.5" y="255.3" width="0.7" height="0.7" fill="#3a4ef0"/>
<rect x="490.4" y="252.0" width="0.7" height="0.7" fill="#3a4ef0"/>
<rect x="483.7" y="254.5" width="0.7" height="0.7" fill="#3a4ef0"/>
<rect x="478.2" y="260.5" width="0.7" height="0.7" fill="#3a4ef0"/>
<rect x="488.8" y="258.3" width="0.7" height="0.7" fill="#3a4ef0"/>
<rect x="488.5" y="260.1" width="0.7" height="0.7" fill="#3a4ef0"/>
<rect x="486.6" y="252.4" width="0.7" height="0.7" fill="#3a4ef0"/>
<rect x="485.1" y="253.9" width="0.7" height="0.7" fill="#3a4ef0"/>
<rect x="483.8" y="262.2" width="0.7" height="0.7" fill="#3a4ef0"/>
<rect x="481.8" y="254.6" width="0.7" height="0.7" fill="#3a4ef0"/>
<rect x="487.9" y="253.4" width="0.7" height="0.7" fill="#3a4ef0"/>
<rect x="477.7" y="258.9" width="0.7" height="0.7" fill="#3a4ef0"/>
<rect x="478.6" y="261.0" width="0.7" height="0.7" fill="#3a4ef0"/>
<rect x="479.2" y="261.4" width="0.7" height="0.7" fill="#3a4ef0"/>
<rect x="491.1" y="252.0" width="0.7" height="0.7" fill="#3a4ef0"/>
<rect x="478.1" y="260.3" width="0.7" height="0.7" fill="#3a4ef0"/>
<rect x="489.7" y="252.4" width="0.7" height="0.7" fill="#3a4ef0"/>
<rect x="489.1" y="251.9" width="0.7" height="0.7" fill="#3a4ef0"/>
<rect x="477.9" y="261.3" width="0.7" height="0.7" fill="#3a4ef0"/>
<rect x="478.2" y="259.0" width="0.7" height="0.7" fill="#3a4ef0"/>
<rect x="489.5" y="258.1" width="0.7" height="0.7" fill="#3a4ef0"/>
<rect x="485.5" y="254.0" width="0.7" height="0.7" fill="#3a4ef0"/>
<rect x="492.2" y="254.5" width="0.7" height="0.7" fill="#3a4ef0"/>
<rect x="485.1" y="261.4" width="0.7" height="0.7" fill="#3a4ef0"/>
<ellipse cx="498.3" cy="243.6" rx="3.4" ry="5.0" fill="#7cc088" opacity="0.75" filter="url(#b1)"/>
<ellipse cx="498.3" cy="243.6" rx="2.2" ry="3.6" fill="#2f8a3e" filter="url(#b2)"/>
<ellipse cx="498.0" cy="243.9" rx="1.1" ry="2.0" fill="#0e4a18" filter="url(#b2)"/>
<rect x="495.6" y="244.3" width="0.6" height="0.6" fill="#3a9a4a"/>
<rect x="500.8" y="243.5" width="0.6" height="0.6" fill="#3a9a4a"/>
<rect x="496.1" y="245.6" width="0.6" height="0.6" fill="#3a9a4a"/>
<rect x="496.5" y="240.7" width="0.6" height="0.6" fill="#3a9a4a"/>
<rect x="496.3" y="247.5" width="0.6" height="0.6" fill="#3a9a4a"/>
<rect x="497.0" y="247.7" width="0.6" height="0.6" fill="#3a9a4a"/>
<rect x="500.3" y="241.6" width="0.6" height="0.6" fill="#3a9a4a"/>
<rect x="500.7" y="245.1" width="0.6" height="0.6" fill="#3a9a4a"/>
<rect x="498.6" y="238.9" width="0.6" height="0.6" fill="#3a9a4a"/>
<rect x="498.5" y="247.7" width="0.6" height="0.6" fill="#3a9a4a"/>
<rect x="499.6" y="247.5" width="0.6" height="0.6" fill="#3a9a4a"/>
<rect x="501.4" y="244.9" width="0.6" height="0.6" fill="#3a9a4a"/>
<rect x="501.2" y="240.3" width="0.6" height="0.6" fill="#3a9a4a"/>
<rect x="498.0" y="238.2" width="0.6" height="0.6" fill="#3a9a4a"/>
<circle cx="488.0" cy="243.2" r="0.6" fill="#e8a0a0"/>
<circle cx="489.9" cy="241.2" r="0.5" fill="#e8a0a0"/>
<circle cx="494.4" cy="236.2" r="0.5" fill="#e8c080"/>
<circle cx="485.4" cy="243.2" r="0.7" fill="#8a8ae0"/>
<circle cx="497.4" cy="254.2" r="0.6" fill="#8a8ae0"/>
<text x="480.08" y="270.82" font-size="3.1" text-anchor="middle" fill="#444" >10<tspan dy="-1" font-size="2">1</tspan></text>
<text x="489.13" y="270.82" font-size="3.1" text-anchor="middle" fill="#444" >10<tspan dy="-1" font-size="2">2</tspan></text>
<text x="498.17" y="270.82" font-size="3.1" text-anchor="middle" fill="#444" >10<tspan dy="-1" font-size="2">3</tspan></text>
<text x="507.22" y="270.82" font-size="3.1" text-anchor="middle" fill="#444" >10<tspan dy="-1" font-size="2">4</tspan></text>
<text x="473.00" y="236.95" font-size="3.2" text-anchor="end" fill="#444" >10<tspan dy="-1" font-size="2">3</tspan></text>
<text x="473.00" y="245.15" font-size="3.2" text-anchor="end" fill="#444" >10<tspan dy="-1" font-size="2">2</tspan></text>
<text x="473.00" y="253.35" font-size="3.2" text-anchor="end" fill="#444" >10<tspan dy="-1" font-size="2">1</tspan></text>
<text x="473.00" y="261.55" font-size="3.2" text-anchor="end" fill="#444" >10<tspan dy="-1" font-size="2">0</tspan></text>
<text x="493.70" y="220.37" font-size="6.3" text-anchor="middle" fill="#111" font-weight="bold" stroke="#111" stroke-width="0.12" textLength="9.76" lengthAdjust="spacingAndGlyphs" >NB/</text>
<text x="493.70" y="228.57" font-size="6.3" text-anchor="middle" fill="#111" font-weight="bold" stroke="#111" stroke-width="0.12" textLength="17.32" lengthAdjust="spacingAndGlyphs" >Fb CM</text>
<text x="0" y="0" font-size="7.0" text-anchor="middle" fill="#111" font-weight="bold" stroke="#111" stroke-width="0.1" transform="translate(331.32 263.00) rotate(-90)">PI</text>
<line x1="329.00" y1="257.50" x2="329.00" y2="234.00" stroke="#111" stroke-width="0.8" />
<path d="M327,236.3 L329,232.8 L331,236.3" fill="none" stroke="#111" stroke-width="0.8"/>
<text x="354.30" y="282.06" font-size="7.4" text-anchor="middle" fill="#111" font-weight="bold" stroke="#111" stroke-width="0.22" textLength="30.5" lengthAdjust="spacingAndGlyphs" >Annexin V</text>
<line x1="376.00" y1="278.20" x2="511.00" y2="278.20" stroke="#111" stroke-width="0.9" />
<path d="M507.4,275.4 L511.8,278.2 L507.4,281.0" fill="none" stroke="#111" stroke-width="0.9"/>
<line x1="112.50" y1="309.20" x2="112.50" y2="370.90" stroke="#222" stroke-width="0.8" />
<line x1="112.10" y1="370.50" x2="189.20" y2="370.50" stroke="#222" stroke-width="0.8" />
<line x1="110.90" y1="370.50" x2="112.50" y2="370.50" stroke="#222" stroke-width="0.6" />
<text x="110.20" y="372.59" font-size="5.8" text-anchor="end" fill="#222" font-weight="bold" stroke="#222" stroke-width="0.12" >0</text>
<line x1="110.90" y1="358.34" x2="112.50" y2="358.34" stroke="#222" stroke-width="0.6" />
<text x="110.20" y="360.43" font-size="5.8" text-anchor="end" fill="#222" font-weight="bold" stroke="#222" stroke-width="0.12" >10</text>
<line x1="110.90" y1="346.18" x2="112.50" y2="346.18" stroke="#222" stroke-width="0.6" />
<text x="110.20" y="348.27" font-size="5.8" text-anchor="end" fill="#222" font-weight="bold" stroke="#222" stroke-width="0.12" >20</text>
<line x1="110.90" y1="334.02" x2="112.50" y2="334.02" stroke="#222" stroke-width="0.6" />
<text x="110.20" y="336.11" font-size="5.8" text-anchor="end" fill="#222" font-weight="bold" stroke="#222" stroke-width="0.12" >30</text>
<line x1="110.90" y1="321.86" x2="112.50" y2="321.86" stroke="#222" stroke-width="0.6" />
<text x="110.20" y="323.95" font-size="5.8" text-anchor="end" fill="#222" font-weight="bold" stroke="#222" stroke-width="0.12" >40</text>
<line x1="110.90" y1="309.70" x2="112.50" y2="309.70" stroke="#222" stroke-width="0.6" />
<text x="110.20" y="311.79" font-size="5.8" text-anchor="end" fill="#222" font-weight="bold" stroke="#222" stroke-width="0.12" >50</text>
<line x1="122.30" y1="332.20" x2="122.30" y2="340.10" stroke="#111" stroke-width="0.7" />
<line x1="120.10" y1="332.20" x2="124.50" y2="332.20" stroke="#111" stroke-width="0.7" />
<rect x="114.80" y="340.10" width="15.0" height="30.40" fill="#ffffff" stroke="#222" stroke-width="0.7"/>
<line x1="122.30" y1="370.50" x2="122.30" y2="372.10" stroke="#222" stroke-width="0.6" />
<text x="122.30" y="377.20" font-size="5.0" text-anchor="middle" fill="#111" font-weight="bold" stroke="#111" stroke-width="0.12" >NB</text>
<text x="122.30" y="383.40" font-size="5.0" text-anchor="middle" fill="#111" font-weight="bold" stroke="#111" stroke-width="0.12" >CM</text>
<line x1="141.60" y1="323.32" x2="141.60" y2="324.29" stroke="#111" stroke-width="0.7" />
<line x1="139.40" y1="323.32" x2="143.80" y2="323.32" stroke="#111" stroke-width="0.7" />
<rect x="134.10" y="324.29" width="15.0" height="46.21" fill="#dcdcdc" stroke="#222" stroke-width="0.7"/>
<line x1="141.60" y1="370.50" x2="141.60" y2="372.10" stroke="#222" stroke-width="0.6" />
<text x="141.60" y="377.20" font-size="5.0" text-anchor="middle" fill="#111" font-weight="bold" stroke="#111" stroke-width="0.12" >NB/</text>
<text x="140.40" y="383.40" font-size="5.0" text-anchor="middle" fill="#111" font-weight="bold" stroke="#111" stroke-width="0.12" textLength="20.3" lengthAdjust="spacingAndGlyphs" >CAF-MSC</text>
<text x="141.60" y="389.60" font-size="5.0" text-anchor="middle" fill="#111" font-weight="bold" stroke="#111" stroke-width="0.12" >CM</text>
<text x="141.60" y="319.40" font-size="7.5" text-anchor="middle" fill="#111" font-weight="bold" stroke="#111" stroke-width="0.22">***</text>
<line x1="160.90" y1="316.02" x2="160.90" y2="318.21" stroke="#111" stroke-width="0.7" />
<line x1="158.70" y1="316.02" x2="163.10" y2="316.02" stroke="#111" stroke-width="0.7" />
<rect x="153.40" y="318.21" width="15.0" height="52.29" fill="#8a8a8a" stroke="#222" stroke-width="0.7"/>
<line x1="160.90" y1="370.50" x2="160.90" y2="372.10" stroke="#222" stroke-width="0.6" />
<text x="160.90" y="377.20" font-size="5.0" text-anchor="middle" fill="#111" font-weight="bold" stroke="#111" stroke-width="0.12" >NB/</text>
<text x="160.90" y="383.40" font-size="5.0" text-anchor="middle" fill="#111" font-weight="bold" stroke="#111" stroke-width="0.12" textLength="17.8" lengthAdjust="spacingAndGlyphs" >BM-MSC</text>
<text x="160.90" y="389.60" font-size="5.0" text-anchor="middle" fill="#111" font-weight="bold" stroke="#111" stroke-width="0.12" >CM</text>
<text x="160.90" y="313.10" font-size="7.5" text-anchor="middle" fill="#111" font-weight="bold" stroke="#111" stroke-width="0.22">****</text>
<line x1="180.20" y1="327.94" x2="180.20" y2="329.16" stroke="#111" stroke-width="0.7" />
<line x1="178.00" y1="327.94" x2="182.40" y2="327.94" stroke="#111" stroke-width="0.7" />
<rect x="172.70" y="329.16" width="15.0" height="41.34" fill="#050505" stroke="#222" stroke-width="0.7"/>
<line x1="180.20" y1="370.50" x2="180.20" y2="372.10" stroke="#222" stroke-width="0.6" />
<text x="180.20" y="377.20" font-size="5.0" text-anchor="middle" fill="#111" font-weight="bold" stroke="#111" stroke-width="0.12" >NB/</text>
<text x="180.20" y="383.40" font-size="5.0" text-anchor="middle" fill="#111" font-weight="bold" stroke="#111" stroke-width="0.12" >Fb</text>
<text x="180.20" y="389.60" font-size="5.0" text-anchor="middle" fill="#111" font-weight="bold" stroke="#111" stroke-width="0.12" >CM</text>
<text x="180.20" y="324.90" font-size="7.5" text-anchor="middle" fill="#111" font-weight="bold" stroke="#111" stroke-width="0.22">*</text>
<text x="143.00" y="297.97" font-size="8.8" text-anchor="middle" fill="#111" font-weight="bold" stroke="#111" stroke-width="0.22" textLength="33.9" lengthAdjust="spacingAndGlyphs" >CHLA-255</text>
<text x="0" y="0" font-size="7.2" text-anchor="middle" fill="#111" textLength="63" lengthAdjust="spacingAndGlyphs" transform="translate(96.39 337.80) rotate(-90)">Cells in S-phase (%)</text>
<line x1="218.40" y1="309.20" x2="218.40" y2="370.90" stroke="#222" stroke-width="0.8" />
<line x1="218.00" y1="370.50" x2="295.10" y2="370.50" stroke="#222" stroke-width="0.8" />
<line x1="216.80" y1="370.50" x2="218.40" y2="370.50" stroke="#222" stroke-width="0.6" />
<text x="216.10" y="372.59" font-size="5.8" text-anchor="end" fill="#222" font-weight="bold" stroke="#222" stroke-width="0.12" >0</text>
<line x1="216.80" y1="358.34" x2="218.40" y2="358.34" stroke="#222" stroke-width="0.6" />
<text x="216.10" y="360.43" font-size="5.8" text-anchor="end" fill="#222" font-weight="bold" stroke="#222" stroke-width="0.12" >10</text>
<line x1="216.80" y1="346.18" x2="218.40" y2="346.18" stroke="#222" stroke-width="0.6" />
<text x="216.10" y="348.27" font-size="5.8" text-anchor="end" fill="#222" font-weight="bold" stroke="#222" stroke-width="0.12" >20</text>
<line x1="216.80" y1="334.02" x2="218.40" y2="334.02" stroke="#222" stroke-width="0.6" />
<text x="216.10" y="336.11" font-size="5.8" text-anchor="end" fill="#222" font-weight="bold" stroke="#222" stroke-width="0.12" >30</text>
<line x1="216.80" y1="321.86" x2="218.40" y2="321.86" stroke="#222" stroke-width="0.6" />
<text x="216.10" y="323.95" font-size="5.8" text-anchor="end" fill="#222" font-weight="bold" stroke="#222" stroke-width="0.12" >40</text>
<line x1="216.80" y1="309.70" x2="218.40" y2="309.70" stroke="#222" stroke-width="0.6" />
<text x="216.10" y="311.79" font-size="5.8" text-anchor="end" fill="#222" font-weight="bold" stroke="#222" stroke-width="0.12" >50</text>
<line x1="228.20" y1="335.84" x2="228.20" y2="338.88" stroke="#111" stroke-width="0.7" />
<line x1="226.00" y1="335.84" x2="230.40" y2="335.84" stroke="#111" stroke-width="0.7" />
<rect x="220.70" y="338.88" width="15.0" height="31.62" fill="#ffffff" stroke="#222" stroke-width="0.7"/>
<line x1="228.20" y1="370.50" x2="228.20" y2="372.10" stroke="#222" stroke-width="0.6" />
<text x="228.20" y="377.20" font-size="5.0" text-anchor="middle" fill="#111" font-weight="bold" stroke="#111" stroke-width="0.12" >NB</text>
<text x="228.20" y="383.40" font-size="5.0" text-anchor="middle" fill="#111" font-weight="bold" stroke="#111" stroke-width="0.12" >CM</text>
<line x1="247.50" y1="315.17" x2="247.50" y2="318.21" stroke="#111" stroke-width="0.7" />
<line x1="245.30" y1="315.17" x2="249.70" y2="315.17" stroke="#111" stroke-width="0.7" />
<rect x="240.00" y="318.21" width="15.0" height="52.29" fill="#dcdcdc" stroke="#222" stroke-width="0.7"/>
<line x1="247.50" y1="370.50" x2="247.50" y2="372.10" stroke="#222" stroke-width="0.6" />
<text x="247.50" y="377.20" font-size="5.0" text-anchor="middle" fill="#111" font-weight="bold" stroke="#111" stroke-width="0.12" >NB/</text>
<text x="246.30" y="383.40" font-size="5.0" text-anchor="middle" fill="#111" font-weight="bold" stroke="#111" stroke-width="0.12" textLength="20.3" lengthAdjust="spacingAndGlyphs" >CAF-MSC</text>
<text x="247.50" y="389.60" font-size="5.0" text-anchor="middle" fill="#111" font-weight="bold" stroke="#111" stroke-width="0.12" >CM</text>
<text x="247.50" y="314.20" font-size="7.5" text-anchor="middle" fill="#111" font-weight="bold" stroke="#111" stroke-width="0.22">***</text>
<line x1="266.80" y1="313.59" x2="266.80" y2="314.56" stroke="#111" stroke-width="0.7" />
<line x1="264.60" y1="313.59" x2="269.00" y2="313.59" stroke="#111" stroke-width="0.7" />
<rect x="259.30" y="314.56" width="15.0" height="55.94" fill="#8a8a8a" stroke="#222" stroke-width="0.7"/>
<line x1="266.80" y1="370.50" x2="266.80" y2="372.10" stroke="#222" stroke-width="0.6" />
<text x="266.80" y="377.20" font-size="5.0" text-anchor="middle" fill="#111" font-weight="bold" stroke="#111" stroke-width="0.12" >NB/</text>
<text x="266.80" y="383.40" font-size="5.0" text-anchor="middle" fill="#111" font-weight="bold" stroke="#111" stroke-width="0.12" textLength="17.8" lengthAdjust="spacingAndGlyphs" >BM-MSC</text>
<text x="266.80" y="389.60" font-size="5.0" text-anchor="middle" fill="#111" font-weight="bold" stroke="#111" stroke-width="0.12" >CM</text>
<text x="266.80" y="311.60" font-size="7.5" text-anchor="middle" fill="#111" font-weight="bold" stroke="#111" stroke-width="0.22">****</text>
<line x1="286.10" y1="330.13" x2="286.10" y2="331.59" stroke="#111" stroke-width="0.7" />
<line x1="283.90" y1="330.13" x2="288.30" y2="330.13" stroke="#111" stroke-width="0.7" />
<rect x="278.60" y="331.59" width="15.0" height="38.91" fill="#050505" stroke="#222" stroke-width="0.7"/>
<line x1="286.10" y1="370.50" x2="286.10" y2="372.10" stroke="#222" stroke-width="0.6" />
<text x="286.10" y="377.20" font-size="5.0" text-anchor="middle" fill="#111" font-weight="bold" stroke="#111" stroke-width="0.12" >NB/</text>
<text x="286.10" y="383.40" font-size="5.0" text-anchor="middle" fill="#111" font-weight="bold" stroke="#111" stroke-width="0.12" >Fb</text>
<text x="286.10" y="389.60" font-size="5.0" text-anchor="middle" fill="#111" font-weight="bold" stroke="#111" stroke-width="0.12" >CM</text>
<text x="286.10" y="324.68" font-size="6.6" text-anchor="middle" fill="#333" textLength="9.5" lengthAdjust="spacingAndGlyphs" >n.s.</text>
<text x="256.40" y="297.97" font-size="8.8" text-anchor="middle" fill="#111" font-weight="bold" stroke="#111" stroke-width="0.22" textLength="29.8" lengthAdjust="spacingAndGlyphs" >SK-N-SH</text>
<line x1="337.50" y1="309.20" x2="337.50" y2="370.90" stroke="#222" stroke-width="0.8" />
<line x1="337.10" y1="370.50" x2="414.20" y2="370.50" stroke="#222" stroke-width="0.8" />
<line x1="335.90" y1="370.50" x2="337.50" y2="370.50" stroke="#222" stroke-width="0.6" />
<text x="335.20" y="372.59" font-size="5.8" text-anchor="end" fill="#222" font-weight="bold" stroke="#222" stroke-width="0.12" >0</text>
<line x1="335.90" y1="358.34" x2="337.50" y2="358.34" stroke="#222" stroke-width="0.6" />
<text x="335.20" y="360.43" font-size="5.8" text-anchor="end" fill="#222" font-weight="bold" stroke="#222" stroke-width="0.12" >10</text>
<line x1="335.90" y1="346.18" x2="337.50" y2="346.18" stroke="#222" stroke-width="0.6" />
<text x="335.20" y="348.27" font-size="5.8" text-anchor="end" fill="#222" font-weight="bold" stroke="#222" stroke-width="0.12" >20</text>
<line x1="335.90" y1="334.02" x2="337.50" y2="334.02" stroke="#222" stroke-width="0.6" />
<text x="335.20" y="336.11" font-size="5.8" text-anchor="end" fill="#222" font-weight="bold" stroke="#222" stroke-width="0.12" >30</text>
<line x1="335.90" y1="321.86" x2="337.50" y2="321.86" stroke="#222" stroke-width="0.6" />
<text x="335.20" y="323.95" font-size="5.8" text-anchor="end" fill="#222" font-weight="bold" stroke="#222" stroke-width="0.12" >40</text>
<line x1="335.90" y1="309.70" x2="337.50" y2="309.70" stroke="#222" stroke-width="0.6" />
<text x="335.20" y="311.79" font-size="5.8" text-anchor="end" fill="#222" font-weight="bold" stroke="#222" stroke-width="0.12" >50</text>
<line x1="347.30" y1="339.49" x2="347.30" y2="347.40" stroke="#111" stroke-width="0.7" />
<line x1="345.10" y1="339.49" x2="349.50" y2="339.49" stroke="#111" stroke-width="0.7" />
<rect x="339.80" y="347.40" width="15.0" height="23.10" fill="#ffffff" stroke="#222" stroke-width="0.7"/>
<line x1="347.30" y1="370.50" x2="347.30" y2="372.10" stroke="#222" stroke-width="0.6" />
<text x="347.30" y="377.20" font-size="5.0" text-anchor="middle" fill="#111" font-weight="bold" stroke="#111" stroke-width="0.12" >NB</text>
<text x="347.30" y="383.40" font-size="5.0" text-anchor="middle" fill="#111" font-weight="bold" stroke="#111" stroke-width="0.12" >CM</text>
<line x1="366.60" y1="364.66" x2="366.60" y2="365.39" stroke="#111" stroke-width="0.7" />
<line x1="364.40" y1="364.66" x2="368.80" y2="364.66" stroke="#111" stroke-width="0.7" />
<rect x="359.10" y="365.39" width="15.0" height="5.11" fill="#dcdcdc" stroke="#222" stroke-width="0.7"/>
<line x1="366.60" y1="370.50" x2="366.60" y2="372.10" stroke="#222" stroke-width="0.6" />
<text x="366.60" y="377.20" font-size="5.0" text-anchor="middle" fill="#111" font-weight="bold" stroke="#111" stroke-width="0.12" >NB/</text>
<text x="365.40" y="383.40" font-size="5.0" text-anchor="middle" fill="#111" font-weight="bold" stroke="#111" stroke-width="0.12" textLength="20.3" lengthAdjust="spacingAndGlyphs" >CAF-MSC</text>
<text x="366.60" y="389.60" font-size="5.0" text-anchor="middle" fill="#111" font-weight="bold" stroke="#111" stroke-width="0.12" >CM</text>
<text x="366.60" y="360.20" font-size="7.5" text-anchor="middle" fill="#111" font-weight="bold" stroke="#111" stroke-width="0.22">***</text>
<rect x="378.40" y="366.85" width="15.0" height="3.65" fill="#8a8a8a" stroke="#222" stroke-width="0.7"/>
<line x1="385.90" y1="370.50" x2="385.90" y2="372.10" stroke="#222" stroke-width="0.6" />
<text x="385.90" y="377.20" font-size="5.0" text-anchor="middle" fill="#111" font-weight="bold" stroke="#111" stroke-width="0.12" >NB/</text>
<text x="385.90" y="383.40" font-size="5.0" text-anchor="middle" fill="#111" font-weight="bold" stroke="#111" stroke-width="0.12" textLength="17.8" lengthAdjust="spacingAndGlyphs" >BM-MSC</text>
<text x="385.90" y="389.60" font-size="5.0" text-anchor="middle" fill="#111" font-weight="bold" stroke="#111" stroke-width="0.12" >CM</text>
<text x="385.90" y="363.50" font-size="7.5" text-anchor="middle" fill="#111" font-weight="bold" stroke="#111" stroke-width="0.22">***</text>
<line x1="405.20" y1="350.19" x2="405.20" y2="351.65" stroke="#111" stroke-width="0.7" />
<line x1="403.00" y1="350.19" x2="407.40" y2="350.19" stroke="#111" stroke-width="0.7" />
<rect x="397.70" y="351.65" width="15.0" height="18.85" fill="#050505" stroke="#222" stroke-width="0.7"/>
<line x1="405.20" y1="370.50" x2="405.20" y2="372.10" stroke="#222" stroke-width="0.6" />
<text x="405.20" y="377.20" font-size="5.0" text-anchor="middle" fill="#111" font-weight="bold" stroke="#111" stroke-width="0.12" >NB/</text>
<text x="405.20" y="383.40" font-size="5.0" text-anchor="middle" fill="#111" font-weight="bold" stroke="#111" stroke-width="0.12" >Fb</text>
<text x="405.20" y="389.60" font-size="5.0" text-anchor="middle" fill="#111" font-weight="bold" stroke="#111" stroke-width="0.12" >CM</text>
<text x="405.20" y="344.68" font-size="6.6" text-anchor="middle" fill="#333" textLength="9.5" lengthAdjust="spacingAndGlyphs" >n.s.</text>
<text x="375.80" y="297.97" font-size="8.8" text-anchor="middle" fill="#111" font-weight="bold" stroke="#111" stroke-width="0.22" textLength="34" lengthAdjust="spacingAndGlyphs" >CHLA-255</text>
<text x="0" y="0" font-size="7.6" text-anchor="middle" fill="#111" font-weight="bold" stroke="#111" stroke-width="0.1" textLength="44" lengthAdjust="spacingAndGlyphs" transform="translate(322.94 337.50) rotate(-90)">Apoptosis (%)</text>
<line x1="440.60" y1="309.20" x2="440.60" y2="370.90" stroke="#222" stroke-width="0.8" />
<line x1="440.20" y1="370.50" x2="519.70" y2="370.50" stroke="#222" stroke-width="0.8" />
<line x1="439.00" y1="370.50" x2="440.60" y2="370.50" stroke="#222" stroke-width="0.6" />
<text x="438.30" y="372.59" font-size="5.8" text-anchor="end" fill="#222" font-weight="bold" stroke="#222" stroke-width="0.12" >0</text>
<line x1="439.00" y1="358.34" x2="440.60" y2="358.34" stroke="#222" stroke-width="0.6" />
<text x="438.30" y="360.43" font-size="5.8" text-anchor="end" fill="#222" font-weight="bold" stroke="#222" stroke-width="0.12" >10</text>
<line x1="439.00" y1="346.18" x2="440.60" y2="346.18" stroke="#222" stroke-width="0.6" />
<text x="438.30" y="348.27" font-size="5.8" text-anchor="end" fill="#222" font-weight="bold" stroke="#222" stroke-width="0.12" >20</text>
<line x1="439.00" y1="334.02" x2="440.60" y2="334.02" stroke="#222" stroke-width="0.6" />
<text x="438.30" y="336.11" font-size="5.8" text-anchor="end" fill="#222" font-weight="bold" stroke="#222" stroke-width="0.12" >30</text>
<line x1="439.00" y1="321.86" x2="440.60" y2="321.86" stroke="#222" stroke-width="0.6" />
<text x="438.30" y="323.95" font-size="5.8" text-anchor="end" fill="#222" font-weight="bold" stroke="#222" stroke-width="0.12" >40</text>
<line x1="439.00" y1="309.70" x2="440.60" y2="309.70" stroke="#222" stroke-width="0.6" />
<text x="438.30" y="311.79" font-size="5.8" text-anchor="end" fill="#222" font-weight="bold" stroke="#222" stroke-width="0.12" >50</text>
<line x1="450.70" y1="341.32" x2="450.70" y2="346.18" stroke="#111" stroke-width="0.7" />
<line x1="448.50" y1="341.32" x2="452.90" y2="341.32" stroke="#111" stroke-width="0.7" />
<rect x="442.90" y="346.18" width="15.6" height="24.32" fill="#ffffff" stroke="#222" stroke-width="0.7"/>
<line x1="450.70" y1="370.50" x2="450.70" y2="372.10" stroke="#222" stroke-width="0.6" />
<text x="450.70" y="377.20" font-size="5.0" text-anchor="middle" fill="#111" font-weight="bold" stroke="#111" stroke-width="0.12" >NB</text>
<text x="450.70" y="383.40" font-size="5.0" text-anchor="middle" fill="#111" font-weight="bold" stroke="#111" stroke-width="0.12" >CM</text>
<line x1="470.60" y1="364.78" x2="470.60" y2="365.39" stroke="#111" stroke-width="0.7" />
<line x1="468.40" y1="364.78" x2="472.80" y2="364.78" stroke="#111" stroke-width="0.7" />
<rect x="462.80" y="365.39" width="15.6" height="5.11" fill="#dcdcdc" stroke="#222" stroke-width="0.7"/>
<line x1="470.60" y1="370.50" x2="470.60" y2="372.10" stroke="#222" stroke-width="0.6" />
<text x="470.60" y="377.20" font-size="5.0" text-anchor="middle" fill="#111" font-weight="bold" stroke="#111" stroke-width="0.12" >NB/</text>
<text x="469.40" y="383.40" font-size="5.0" text-anchor="middle" fill="#111" font-weight="bold" stroke="#111" stroke-width="0.12" textLength="20.3" lengthAdjust="spacingAndGlyphs" >CAF-MSC</text>
<text x="470.60" y="389.60" font-size="5.0" text-anchor="middle" fill="#111" font-weight="bold" stroke="#111" stroke-width="0.12" >CM</text>
<text x="470.60" y="362.80" font-size="7.5" text-anchor="middle" fill="#111" font-weight="bold" stroke="#111" stroke-width="0.22">***</text>
<line x1="490.50" y1="350.44" x2="490.50" y2="355.30" stroke="#111" stroke-width="0.7" />
<line x1="488.30" y1="350.44" x2="492.70" y2="350.44" stroke="#111" stroke-width="0.7" />
<rect x="482.70" y="355.30" width="15.6" height="15.20" fill="#8a8a8a" stroke="#222" stroke-width="0.7"/>
<line x1="490.50" y1="370.50" x2="490.50" y2="372.10" stroke="#222" stroke-width="0.6" />
<text x="490.50" y="377.20" font-size="5.0" text-anchor="middle" fill="#111" font-weight="bold" stroke="#111" stroke-width="0.12" >NB/</text>
<text x="490.50" y="383.40" font-size="5.0" text-anchor="middle" fill="#111" font-weight="bold" stroke="#111" stroke-width="0.12" textLength="17.8" lengthAdjust="spacingAndGlyphs" >BM-MSC</text>
<text x="490.50" y="389.60" font-size="5.0" text-anchor="middle" fill="#111" font-weight="bold" stroke="#111" stroke-width="0.12" >CM</text>
<text x="490.50" y="349.10" font-size="7.5" text-anchor="middle" fill="#111" font-weight="bold" stroke="#111" stroke-width="0.22">*</text>
<line x1="510.40" y1="343.75" x2="510.40" y2="349.22" stroke="#111" stroke-width="0.7" />
<line x1="508.20" y1="343.75" x2="512.60" y2="343.75" stroke="#111" stroke-width="0.7" />
<rect x="502.60" y="349.22" width="15.6" height="21.28" fill="#050505" stroke="#222" stroke-width="0.7"/>
<line x1="510.40" y1="370.50" x2="510.40" y2="372.10" stroke="#222" stroke-width="0.6" />
<text x="510.40" y="377.20" font-size="5.0" text-anchor="middle" fill="#111" font-weight="bold" stroke="#111" stroke-width="0.12" >NB/</text>
<text x="510.40" y="383.40" font-size="5.0" text-anchor="middle" fill="#111" font-weight="bold" stroke="#111" stroke-width="0.12" >Fb</text>
<text x="510.40" y="389.60" font-size="5.0" text-anchor="middle" fill="#111" font-weight="bold" stroke="#111" stroke-width="0.12" >CM</text>
<text x="510.40" y="338.98" font-size="6.6" text-anchor="middle" fill="#333" textLength="9.5" lengthAdjust="spacingAndGlyphs" >n.s.</text>
<text x="471.80" y="297.97" font-size="8.8" text-anchor="middle" fill="#111" font-weight="bold" stroke="#111" stroke-width="0.22" textLength="29.8" lengthAdjust="spacingAndGlyphs" >SK-N-SH</text>
</svg></body></html>
